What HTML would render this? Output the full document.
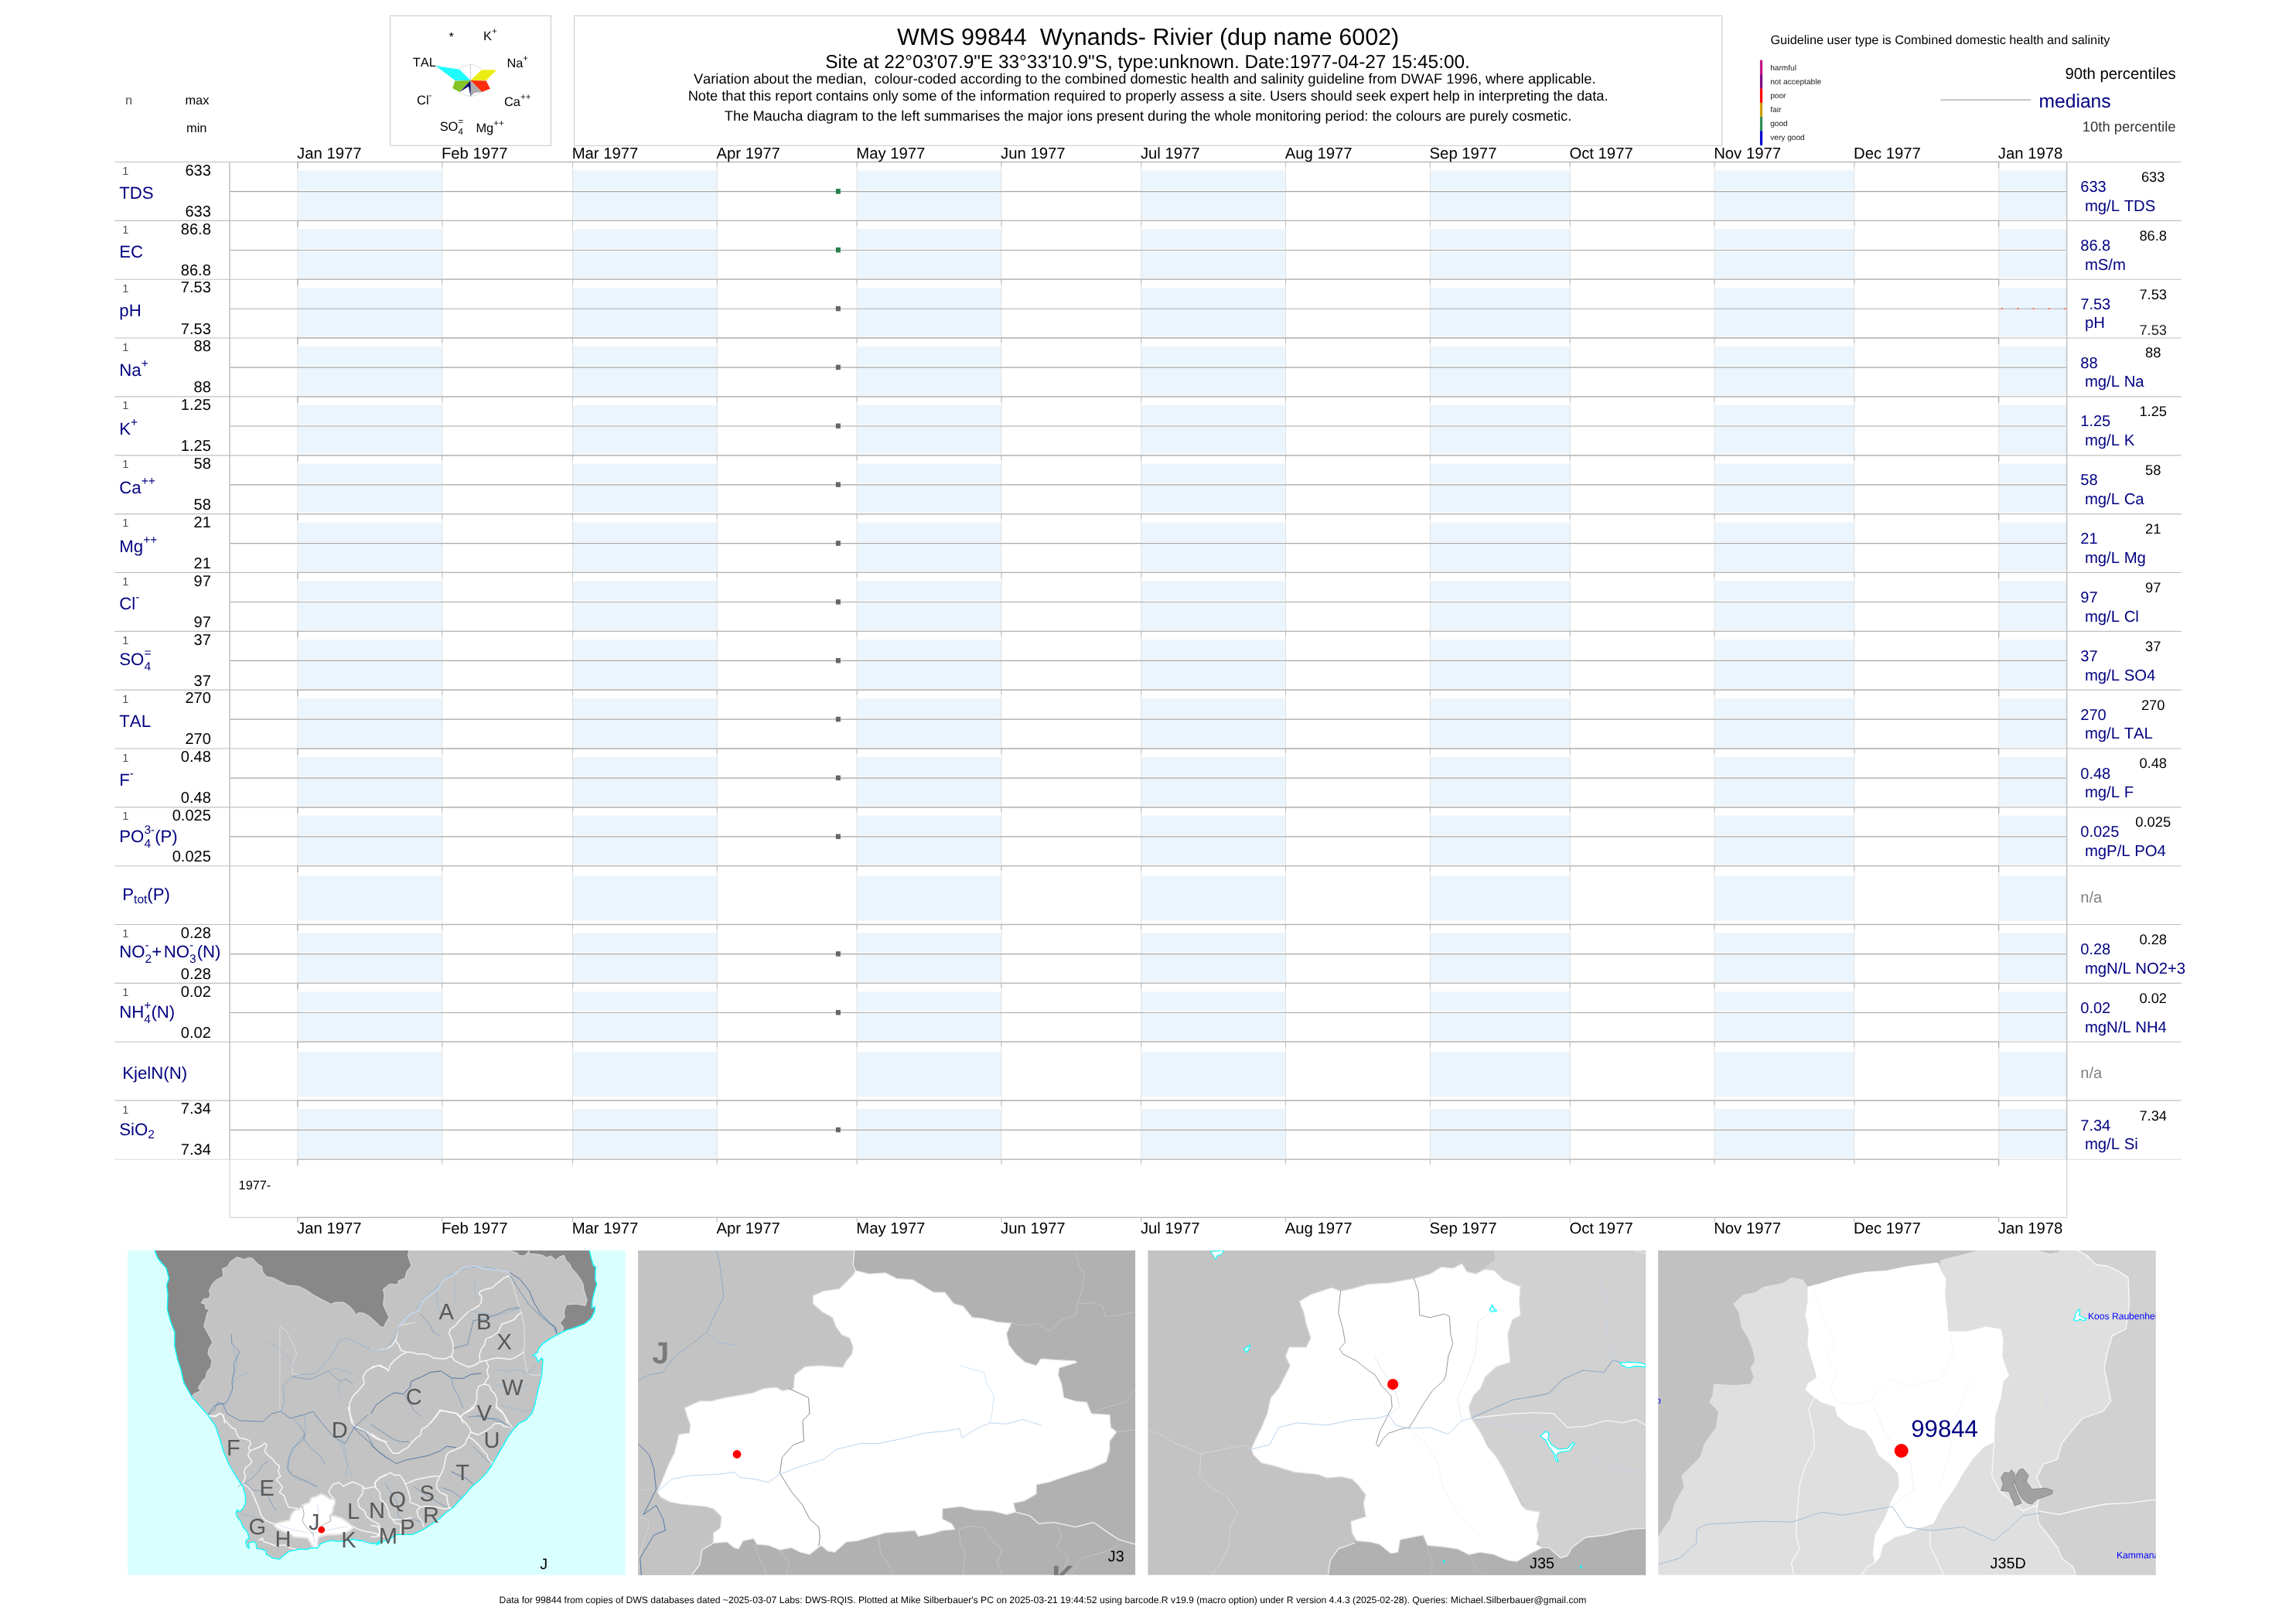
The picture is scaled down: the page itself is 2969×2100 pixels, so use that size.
<!DOCTYPE html>
<html lang="en"><head><meta charset="utf-8"><title>WMS 99844 Wynands- Rivier</title>
<style>html,body{margin:0;padding:0;background:#fff;}body{width:2969px;height:2100px;overflow:hidden;}svg{display:block;will-change:transform;text-rendering:geometricPrecision;font-family:'Liberation Sans', sans-serif;}text{white-space:pre;font-kerning:none;}</style>
</head><body>
<svg width="2969" height="2100" viewBox="0 0 2969 2100">
<rect width="2969" height="2100" fill="#fff"/>
<g id="bands">
<rect x="385.4" y="220.5" width="186.3" height="25.5" fill="#ebf5fd"/>
<rect x="385.4" y="248.5" width="186.3" height="35.3" fill="#ebf5fd"/>
<rect x="741.0" y="220.5" width="186.3" height="25.5" fill="#ebf5fd"/>
<rect x="741.0" y="248.5" width="186.3" height="35.3" fill="#ebf5fd"/>
<rect x="1108.6" y="220.5" width="186.3" height="25.5" fill="#ebf5fd"/>
<rect x="1108.6" y="248.5" width="186.3" height="35.3" fill="#ebf5fd"/>
<rect x="1476.2" y="220.5" width="186.3" height="25.5" fill="#ebf5fd"/>
<rect x="1476.2" y="248.5" width="186.3" height="35.3" fill="#ebf5fd"/>
<rect x="1849.9" y="220.5" width="180.3" height="25.5" fill="#ebf5fd"/>
<rect x="1849.9" y="248.5" width="180.3" height="35.3" fill="#ebf5fd"/>
<rect x="2217.5" y="220.5" width="180.3" height="25.5" fill="#ebf5fd"/>
<rect x="2217.5" y="248.5" width="180.3" height="35.3" fill="#ebf5fd"/>
<rect x="2585.1" y="220.5" width="87.5" height="25.5" fill="#ebf5fd"/>
<rect x="2585.1" y="248.5" width="87.5" height="35.3" fill="#ebf5fd"/>
<rect x="385.4" y="296.4" width="186.3" height="25.6" fill="#ebf5fd"/>
<rect x="385.4" y="324.4" width="186.3" height="35.3" fill="#ebf5fd"/>
<rect x="741.0" y="296.4" width="186.3" height="25.6" fill="#ebf5fd"/>
<rect x="741.0" y="324.4" width="186.3" height="35.3" fill="#ebf5fd"/>
<rect x="1108.6" y="296.4" width="186.3" height="25.6" fill="#ebf5fd"/>
<rect x="1108.6" y="324.4" width="186.3" height="35.3" fill="#ebf5fd"/>
<rect x="1476.2" y="296.4" width="186.3" height="25.6" fill="#ebf5fd"/>
<rect x="1476.2" y="324.4" width="186.3" height="35.3" fill="#ebf5fd"/>
<rect x="1849.9" y="296.4" width="180.3" height="25.6" fill="#ebf5fd"/>
<rect x="1849.9" y="324.4" width="180.3" height="35.3" fill="#ebf5fd"/>
<rect x="2217.5" y="296.4" width="180.3" height="25.6" fill="#ebf5fd"/>
<rect x="2217.5" y="324.4" width="180.3" height="35.3" fill="#ebf5fd"/>
<rect x="2585.1" y="296.4" width="87.5" height="25.6" fill="#ebf5fd"/>
<rect x="2585.1" y="324.4" width="87.5" height="35.3" fill="#ebf5fd"/>
<rect x="385.4" y="372.2" width="186.3" height="63.3" fill="#ebf5fd"/>
<rect x="741.0" y="372.2" width="186.3" height="63.3" fill="#ebf5fd"/>
<rect x="1108.6" y="372.2" width="186.3" height="63.3" fill="#ebf5fd"/>
<rect x="1476.2" y="372.2" width="186.3" height="63.3" fill="#ebf5fd"/>
<rect x="1849.9" y="372.2" width="180.3" height="63.3" fill="#ebf5fd"/>
<rect x="2217.5" y="372.2" width="180.3" height="63.3" fill="#ebf5fd"/>
<rect x="2585.1" y="372.2" width="87.5" height="63.3" fill="#ebf5fd"/>
<rect x="385.4" y="448.0" width="186.3" height="25.6" fill="#ebf5fd"/>
<rect x="385.4" y="476.1" width="186.3" height="35.3" fill="#ebf5fd"/>
<rect x="741.0" y="448.0" width="186.3" height="25.6" fill="#ebf5fd"/>
<rect x="741.0" y="476.1" width="186.3" height="35.3" fill="#ebf5fd"/>
<rect x="1108.6" y="448.0" width="186.3" height="25.6" fill="#ebf5fd"/>
<rect x="1108.6" y="476.1" width="186.3" height="35.3" fill="#ebf5fd"/>
<rect x="1476.2" y="448.0" width="186.3" height="25.6" fill="#ebf5fd"/>
<rect x="1476.2" y="476.1" width="186.3" height="35.3" fill="#ebf5fd"/>
<rect x="1849.9" y="448.0" width="180.3" height="25.6" fill="#ebf5fd"/>
<rect x="1849.9" y="476.1" width="180.3" height="35.3" fill="#ebf5fd"/>
<rect x="2217.5" y="448.0" width="180.3" height="25.6" fill="#ebf5fd"/>
<rect x="2217.5" y="476.1" width="180.3" height="35.3" fill="#ebf5fd"/>
<rect x="2585.1" y="448.0" width="87.5" height="25.6" fill="#ebf5fd"/>
<rect x="2585.1" y="476.1" width="87.5" height="35.3" fill="#ebf5fd"/>
<rect x="385.4" y="523.9" width="186.3" height="25.6" fill="#ebf5fd"/>
<rect x="385.4" y="552.0" width="186.3" height="35.3" fill="#ebf5fd"/>
<rect x="741.0" y="523.9" width="186.3" height="25.6" fill="#ebf5fd"/>
<rect x="741.0" y="552.0" width="186.3" height="35.3" fill="#ebf5fd"/>
<rect x="1108.6" y="523.9" width="186.3" height="25.6" fill="#ebf5fd"/>
<rect x="1108.6" y="552.0" width="186.3" height="35.3" fill="#ebf5fd"/>
<rect x="1476.2" y="523.9" width="186.3" height="25.6" fill="#ebf5fd"/>
<rect x="1476.2" y="552.0" width="186.3" height="35.3" fill="#ebf5fd"/>
<rect x="1849.9" y="523.9" width="180.3" height="25.6" fill="#ebf5fd"/>
<rect x="1849.9" y="552.0" width="180.3" height="35.3" fill="#ebf5fd"/>
<rect x="2217.5" y="523.9" width="180.3" height="25.6" fill="#ebf5fd"/>
<rect x="2217.5" y="552.0" width="180.3" height="35.3" fill="#ebf5fd"/>
<rect x="2585.1" y="523.9" width="87.5" height="25.6" fill="#ebf5fd"/>
<rect x="2585.1" y="552.0" width="87.5" height="35.3" fill="#ebf5fd"/>
<rect x="385.4" y="599.8" width="186.3" height="25.6" fill="#ebf5fd"/>
<rect x="385.4" y="627.8" width="186.3" height="35.3" fill="#ebf5fd"/>
<rect x="741.0" y="599.8" width="186.3" height="25.6" fill="#ebf5fd"/>
<rect x="741.0" y="627.8" width="186.3" height="35.3" fill="#ebf5fd"/>
<rect x="1108.6" y="599.8" width="186.3" height="25.6" fill="#ebf5fd"/>
<rect x="1108.6" y="627.8" width="186.3" height="35.3" fill="#ebf5fd"/>
<rect x="1476.2" y="599.8" width="186.3" height="25.6" fill="#ebf5fd"/>
<rect x="1476.2" y="627.8" width="186.3" height="35.3" fill="#ebf5fd"/>
<rect x="1849.9" y="599.8" width="180.3" height="25.6" fill="#ebf5fd"/>
<rect x="1849.9" y="627.8" width="180.3" height="35.3" fill="#ebf5fd"/>
<rect x="2217.5" y="599.8" width="180.3" height="25.6" fill="#ebf5fd"/>
<rect x="2217.5" y="627.8" width="180.3" height="35.3" fill="#ebf5fd"/>
<rect x="2585.1" y="599.8" width="87.5" height="25.6" fill="#ebf5fd"/>
<rect x="2585.1" y="627.8" width="87.5" height="35.3" fill="#ebf5fd"/>
<rect x="385.4" y="675.6" width="186.3" height="25.6" fill="#ebf5fd"/>
<rect x="385.4" y="703.6" width="186.3" height="35.3" fill="#ebf5fd"/>
<rect x="741.0" y="675.6" width="186.3" height="25.6" fill="#ebf5fd"/>
<rect x="741.0" y="703.6" width="186.3" height="35.3" fill="#ebf5fd"/>
<rect x="1108.6" y="675.6" width="186.3" height="25.6" fill="#ebf5fd"/>
<rect x="1108.6" y="703.6" width="186.3" height="35.3" fill="#ebf5fd"/>
<rect x="1476.2" y="675.6" width="186.3" height="25.6" fill="#ebf5fd"/>
<rect x="1476.2" y="703.6" width="186.3" height="35.3" fill="#ebf5fd"/>
<rect x="1849.9" y="675.6" width="180.3" height="25.6" fill="#ebf5fd"/>
<rect x="1849.9" y="703.6" width="180.3" height="35.3" fill="#ebf5fd"/>
<rect x="2217.5" y="675.6" width="180.3" height="25.6" fill="#ebf5fd"/>
<rect x="2217.5" y="703.6" width="180.3" height="35.3" fill="#ebf5fd"/>
<rect x="2585.1" y="675.6" width="87.5" height="25.6" fill="#ebf5fd"/>
<rect x="2585.1" y="703.6" width="87.5" height="35.3" fill="#ebf5fd"/>
<rect x="385.4" y="751.4" width="186.3" height="25.6" fill="#ebf5fd"/>
<rect x="385.4" y="779.5" width="186.3" height="35.3" fill="#ebf5fd"/>
<rect x="741.0" y="751.4" width="186.3" height="25.6" fill="#ebf5fd"/>
<rect x="741.0" y="779.5" width="186.3" height="35.3" fill="#ebf5fd"/>
<rect x="1108.6" y="751.4" width="186.3" height="25.6" fill="#ebf5fd"/>
<rect x="1108.6" y="779.5" width="186.3" height="35.3" fill="#ebf5fd"/>
<rect x="1476.2" y="751.4" width="186.3" height="25.6" fill="#ebf5fd"/>
<rect x="1476.2" y="779.5" width="186.3" height="35.3" fill="#ebf5fd"/>
<rect x="1849.9" y="751.4" width="180.3" height="25.6" fill="#ebf5fd"/>
<rect x="1849.9" y="779.5" width="180.3" height="35.3" fill="#ebf5fd"/>
<rect x="2217.5" y="751.4" width="180.3" height="25.6" fill="#ebf5fd"/>
<rect x="2217.5" y="779.5" width="180.3" height="35.3" fill="#ebf5fd"/>
<rect x="2585.1" y="751.4" width="87.5" height="25.6" fill="#ebf5fd"/>
<rect x="2585.1" y="779.5" width="87.5" height="35.3" fill="#ebf5fd"/>
<rect x="385.4" y="827.3" width="186.3" height="25.6" fill="#ebf5fd"/>
<rect x="385.4" y="855.4" width="186.3" height="35.3" fill="#ebf5fd"/>
<rect x="741.0" y="827.3" width="186.3" height="25.6" fill="#ebf5fd"/>
<rect x="741.0" y="855.4" width="186.3" height="35.3" fill="#ebf5fd"/>
<rect x="1108.6" y="827.3" width="186.3" height="25.6" fill="#ebf5fd"/>
<rect x="1108.6" y="855.4" width="186.3" height="35.3" fill="#ebf5fd"/>
<rect x="1476.2" y="827.3" width="186.3" height="25.6" fill="#ebf5fd"/>
<rect x="1476.2" y="855.4" width="186.3" height="35.3" fill="#ebf5fd"/>
<rect x="1849.9" y="827.3" width="180.3" height="25.6" fill="#ebf5fd"/>
<rect x="1849.9" y="855.4" width="180.3" height="35.3" fill="#ebf5fd"/>
<rect x="2217.5" y="827.3" width="180.3" height="25.6" fill="#ebf5fd"/>
<rect x="2217.5" y="855.4" width="180.3" height="35.3" fill="#ebf5fd"/>
<rect x="2585.1" y="827.3" width="87.5" height="25.6" fill="#ebf5fd"/>
<rect x="2585.1" y="855.4" width="87.5" height="35.3" fill="#ebf5fd"/>
<rect x="385.4" y="903.1" width="186.3" height="25.6" fill="#ebf5fd"/>
<rect x="385.4" y="931.2" width="186.3" height="35.3" fill="#ebf5fd"/>
<rect x="741.0" y="903.1" width="186.3" height="25.6" fill="#ebf5fd"/>
<rect x="741.0" y="931.2" width="186.3" height="35.3" fill="#ebf5fd"/>
<rect x="1108.6" y="903.1" width="186.3" height="25.6" fill="#ebf5fd"/>
<rect x="1108.6" y="931.2" width="186.3" height="35.3" fill="#ebf5fd"/>
<rect x="1476.2" y="903.1" width="186.3" height="25.6" fill="#ebf5fd"/>
<rect x="1476.2" y="931.2" width="186.3" height="35.3" fill="#ebf5fd"/>
<rect x="1849.9" y="903.1" width="180.3" height="25.6" fill="#ebf5fd"/>
<rect x="1849.9" y="931.2" width="180.3" height="35.3" fill="#ebf5fd"/>
<rect x="2217.5" y="903.1" width="180.3" height="25.6" fill="#ebf5fd"/>
<rect x="2217.5" y="931.2" width="180.3" height="35.3" fill="#ebf5fd"/>
<rect x="2585.1" y="903.1" width="87.5" height="25.6" fill="#ebf5fd"/>
<rect x="2585.1" y="931.2" width="87.5" height="35.3" fill="#ebf5fd"/>
<rect x="385.4" y="979.0" width="186.3" height="25.6" fill="#ebf5fd"/>
<rect x="385.4" y="1007.1" width="186.3" height="35.3" fill="#ebf5fd"/>
<rect x="741.0" y="979.0" width="186.3" height="25.6" fill="#ebf5fd"/>
<rect x="741.0" y="1007.1" width="186.3" height="35.3" fill="#ebf5fd"/>
<rect x="1108.6" y="979.0" width="186.3" height="25.6" fill="#ebf5fd"/>
<rect x="1108.6" y="1007.1" width="186.3" height="35.3" fill="#ebf5fd"/>
<rect x="1476.2" y="979.0" width="186.3" height="25.6" fill="#ebf5fd"/>
<rect x="1476.2" y="1007.1" width="186.3" height="35.3" fill="#ebf5fd"/>
<rect x="1849.9" y="979.0" width="180.3" height="25.6" fill="#ebf5fd"/>
<rect x="1849.9" y="1007.1" width="180.3" height="35.3" fill="#ebf5fd"/>
<rect x="2217.5" y="979.0" width="180.3" height="25.6" fill="#ebf5fd"/>
<rect x="2217.5" y="1007.1" width="180.3" height="35.3" fill="#ebf5fd"/>
<rect x="2585.1" y="979.0" width="87.5" height="25.6" fill="#ebf5fd"/>
<rect x="2585.1" y="1007.1" width="87.5" height="35.3" fill="#ebf5fd"/>
<rect x="385.4" y="1054.8" width="186.3" height="25.5" fill="#ebf5fd"/>
<rect x="385.4" y="1082.9" width="186.3" height="35.3" fill="#ebf5fd"/>
<rect x="741.0" y="1054.8" width="186.3" height="25.5" fill="#ebf5fd"/>
<rect x="741.0" y="1082.9" width="186.3" height="35.3" fill="#ebf5fd"/>
<rect x="1108.6" y="1054.8" width="186.3" height="25.5" fill="#ebf5fd"/>
<rect x="1108.6" y="1082.9" width="186.3" height="35.3" fill="#ebf5fd"/>
<rect x="1476.2" y="1054.8" width="186.3" height="25.5" fill="#ebf5fd"/>
<rect x="1476.2" y="1082.9" width="186.3" height="35.3" fill="#ebf5fd"/>
<rect x="1849.9" y="1054.8" width="180.3" height="25.5" fill="#ebf5fd"/>
<rect x="1849.9" y="1082.9" width="180.3" height="35.3" fill="#ebf5fd"/>
<rect x="2217.5" y="1054.8" width="180.3" height="25.5" fill="#ebf5fd"/>
<rect x="2217.5" y="1082.9" width="180.3" height="35.3" fill="#ebf5fd"/>
<rect x="2585.1" y="1054.8" width="87.5" height="25.5" fill="#ebf5fd"/>
<rect x="2585.1" y="1082.9" width="87.5" height="35.3" fill="#ebf5fd"/>
<rect x="385.4" y="1132.7" width="186.3" height="58.0" fill="#ebf5fd"/>
<rect x="741.0" y="1132.7" width="186.3" height="58.0" fill="#ebf5fd"/>
<rect x="1108.6" y="1132.7" width="186.3" height="58.0" fill="#ebf5fd"/>
<rect x="1476.2" y="1132.7" width="186.3" height="58.0" fill="#ebf5fd"/>
<rect x="1849.9" y="1132.7" width="180.3" height="58.0" fill="#ebf5fd"/>
<rect x="2217.5" y="1132.7" width="180.3" height="58.0" fill="#ebf5fd"/>
<rect x="2585.1" y="1132.7" width="87.5" height="58.0" fill="#ebf5fd"/>
<rect x="385.4" y="1206.5" width="186.3" height="25.5" fill="#ebf5fd"/>
<rect x="385.4" y="1234.6" width="186.3" height="35.3" fill="#ebf5fd"/>
<rect x="741.0" y="1206.5" width="186.3" height="25.5" fill="#ebf5fd"/>
<rect x="741.0" y="1234.6" width="186.3" height="35.3" fill="#ebf5fd"/>
<rect x="1108.6" y="1206.5" width="186.3" height="25.5" fill="#ebf5fd"/>
<rect x="1108.6" y="1234.6" width="186.3" height="35.3" fill="#ebf5fd"/>
<rect x="1476.2" y="1206.5" width="186.3" height="25.5" fill="#ebf5fd"/>
<rect x="1476.2" y="1234.6" width="186.3" height="35.3" fill="#ebf5fd"/>
<rect x="1849.9" y="1206.5" width="180.3" height="25.5" fill="#ebf5fd"/>
<rect x="1849.9" y="1234.6" width="180.3" height="35.3" fill="#ebf5fd"/>
<rect x="2217.5" y="1206.5" width="180.3" height="25.5" fill="#ebf5fd"/>
<rect x="2217.5" y="1234.6" width="180.3" height="35.3" fill="#ebf5fd"/>
<rect x="2585.1" y="1206.5" width="87.5" height="25.5" fill="#ebf5fd"/>
<rect x="2585.1" y="1234.6" width="87.5" height="35.3" fill="#ebf5fd"/>
<rect x="385.4" y="1282.4" width="186.3" height="25.5" fill="#ebf5fd"/>
<rect x="385.4" y="1310.4" width="186.3" height="35.3" fill="#ebf5fd"/>
<rect x="741.0" y="1282.4" width="186.3" height="25.5" fill="#ebf5fd"/>
<rect x="741.0" y="1310.4" width="186.3" height="35.3" fill="#ebf5fd"/>
<rect x="1108.6" y="1282.4" width="186.3" height="25.5" fill="#ebf5fd"/>
<rect x="1108.6" y="1310.4" width="186.3" height="35.3" fill="#ebf5fd"/>
<rect x="1476.2" y="1282.4" width="186.3" height="25.5" fill="#ebf5fd"/>
<rect x="1476.2" y="1310.4" width="186.3" height="35.3" fill="#ebf5fd"/>
<rect x="1849.9" y="1282.4" width="180.3" height="25.5" fill="#ebf5fd"/>
<rect x="1849.9" y="1310.4" width="180.3" height="35.3" fill="#ebf5fd"/>
<rect x="2217.5" y="1282.4" width="180.3" height="25.5" fill="#ebf5fd"/>
<rect x="2217.5" y="1310.4" width="180.3" height="35.3" fill="#ebf5fd"/>
<rect x="2585.1" y="1282.4" width="87.5" height="25.5" fill="#ebf5fd"/>
<rect x="2585.1" y="1310.4" width="87.5" height="35.3" fill="#ebf5fd"/>
<rect x="385.4" y="1360.2" width="186.3" height="58.0" fill="#ebf5fd"/>
<rect x="741.0" y="1360.2" width="186.3" height="58.0" fill="#ebf5fd"/>
<rect x="1108.6" y="1360.2" width="186.3" height="58.0" fill="#ebf5fd"/>
<rect x="1476.2" y="1360.2" width="186.3" height="58.0" fill="#ebf5fd"/>
<rect x="1849.9" y="1360.2" width="180.3" height="58.0" fill="#ebf5fd"/>
<rect x="2217.5" y="1360.2" width="180.3" height="58.0" fill="#ebf5fd"/>
<rect x="2585.1" y="1360.2" width="87.5" height="58.0" fill="#ebf5fd"/>
<rect x="385.4" y="1434.1" width="186.3" height="25.5" fill="#ebf5fd"/>
<rect x="385.4" y="1462.1" width="186.3" height="35.3" fill="#ebf5fd"/>
<rect x="741.0" y="1434.1" width="186.3" height="25.5" fill="#ebf5fd"/>
<rect x="741.0" y="1462.1" width="186.3" height="35.3" fill="#ebf5fd"/>
<rect x="1108.6" y="1434.1" width="186.3" height="25.5" fill="#ebf5fd"/>
<rect x="1108.6" y="1462.1" width="186.3" height="35.3" fill="#ebf5fd"/>
<rect x="1476.2" y="1434.1" width="186.3" height="25.5" fill="#ebf5fd"/>
<rect x="1476.2" y="1462.1" width="186.3" height="35.3" fill="#ebf5fd"/>
<rect x="1849.9" y="1434.1" width="180.3" height="25.5" fill="#ebf5fd"/>
<rect x="1849.9" y="1462.1" width="180.3" height="35.3" fill="#ebf5fd"/>
<rect x="2217.5" y="1434.1" width="180.3" height="25.5" fill="#ebf5fd"/>
<rect x="2217.5" y="1462.1" width="180.3" height="35.3" fill="#ebf5fd"/>
<rect x="2585.1" y="1434.1" width="87.5" height="25.5" fill="#ebf5fd"/>
<rect x="2585.1" y="1462.1" width="87.5" height="35.3" fill="#ebf5fd"/>
</g>
<g id="vlines" stroke="#dedede" stroke-width="0.9">
<line x1="384.9" y1="209.5" x2="384.9" y2="1499.2"/>
<line x1="571.7" y1="209.5" x2="571.7" y2="1499.2"/>
<line x1="740.5" y1="209.5" x2="740.5" y2="1499.2"/>
<line x1="927.3" y1="209.5" x2="927.3" y2="1499.2"/>
<line x1="1108.1" y1="209.5" x2="1108.1" y2="1499.2"/>
<line x1="1294.9" y1="209.5" x2="1294.9" y2="1499.2"/>
<line x1="1475.7" y1="209.5" x2="1475.7" y2="1499.2"/>
<line x1="1662.5" y1="209.5" x2="1662.5" y2="1499.2"/>
<line x1="1849.4" y1="209.5" x2="1849.4" y2="1499.2"/>
<line x1="2030.2" y1="209.5" x2="2030.2" y2="1499.2"/>
<line x1="2217.0" y1="209.5" x2="2217.0" y2="1499.2"/>
<line x1="2397.8" y1="209.5" x2="2397.8" y2="1499.2"/>
<line x1="2584.6" y1="209.5" x2="2584.6" y2="1499.2"/>
</g>
<g id="rules" stroke="#bfbfbf" stroke-width="1.15">
<line x1="148.2" y1="209.5" x2="2820.8" y2="209.5"/>
<line x1="148.2" y1="285.4" x2="2820.8" y2="285.4"/>
<line x1="148.2" y1="361.2" x2="2820.8" y2="361.2"/>
<line x1="148.2" y1="437.0" x2="2820.8" y2="437.0"/>
<line x1="148.2" y1="512.9" x2="2820.8" y2="512.9"/>
<line x1="148.2" y1="588.8" x2="2820.8" y2="588.8"/>
<line x1="148.2" y1="664.6" x2="2820.8" y2="664.6"/>
<line x1="148.2" y1="740.4" x2="2820.8" y2="740.4"/>
<line x1="148.2" y1="816.3" x2="2820.8" y2="816.3"/>
<line x1="148.2" y1="892.1" x2="2820.8" y2="892.1"/>
<line x1="148.2" y1="968.0" x2="2820.8" y2="968.0"/>
<line x1="148.2" y1="1043.8" x2="2820.8" y2="1043.8"/>
<line x1="148.2" y1="1119.7" x2="2820.8" y2="1119.7"/>
<line x1="148.2" y1="1195.5" x2="2820.8" y2="1195.5"/>
<line x1="148.2" y1="1271.4" x2="2820.8" y2="1271.4"/>
<line x1="148.2" y1="1347.2" x2="2820.8" y2="1347.2"/>
<line x1="148.2" y1="1423.1" x2="2820.8" y2="1423.1"/>
<line x1="148.2" y1="1499.2" x2="2820.8" y2="1499.2" stroke="#dadada"/>
</g>
<g id="medl" stroke="#a6a6a6" stroke-width="1.2">
<line x1="297.0" y1="247.6" x2="2672.6" y2="247.6"/>
<line x1="297.0" y1="323.5" x2="2672.6" y2="323.5"/>
<line x1="297.0" y1="399.3" x2="2672.6" y2="399.3" stroke="#bdbdbd"/>
<line x1="297.0" y1="475.1" x2="2672.6" y2="475.1"/>
<line x1="297.0" y1="551.0" x2="2672.6" y2="551.0"/>
<line x1="297.0" y1="626.9" x2="2672.6" y2="626.9"/>
<line x1="297.0" y1="702.7" x2="2672.6" y2="702.7"/>
<line x1="297.0" y1="778.5" x2="2672.6" y2="778.5"/>
<line x1="297.0" y1="854.4" x2="2672.6" y2="854.4"/>
<line x1="297.0" y1="930.2" x2="2672.6" y2="930.2"/>
<line x1="297.0" y1="1006.1" x2="2672.6" y2="1006.1"/>
<line x1="297.0" y1="1081.9" x2="2672.6" y2="1081.9"/>
<line x1="297.0" y1="1233.6" x2="2672.6" y2="1233.6"/>
<line x1="297.0" y1="1309.5" x2="2672.6" y2="1309.5"/>
<line x1="297.0" y1="1461.2" x2="2672.6" y2="1461.2"/>
</g>
<g id="ticks" stroke="#b6b6b6" stroke-width="1.2">
<line x1="384.9" y1="209.5" x2="2584.6" y2="209.5" stroke-width="1.3"/>
<line x1="384.9" y1="209.5" x2="384.9" y2="217.8" stroke="#aaaaaa"/>
<line x1="571.7" y1="209.5" x2="571.7" y2="216.0" stroke="#c4c4c4"/>
<line x1="740.5" y1="209.5" x2="740.5" y2="216.0" stroke="#c4c4c4"/>
<line x1="927.3" y1="209.5" x2="927.3" y2="216.0" stroke="#c4c4c4"/>
<line x1="1108.1" y1="209.5" x2="1108.1" y2="216.0" stroke="#c4c4c4"/>
<line x1="1294.9" y1="209.5" x2="1294.9" y2="216.0" stroke="#c4c4c4"/>
<line x1="1475.7" y1="209.5" x2="1475.7" y2="216.0" stroke="#c4c4c4"/>
<line x1="1662.5" y1="209.5" x2="1662.5" y2="216.0" stroke="#c4c4c4"/>
<line x1="1849.4" y1="209.5" x2="1849.4" y2="216.0" stroke="#c4c4c4"/>
<line x1="2030.2" y1="209.5" x2="2030.2" y2="216.0" stroke="#c4c4c4"/>
<line x1="2217.0" y1="209.5" x2="2217.0" y2="216.0" stroke="#c4c4c4"/>
<line x1="2397.8" y1="209.5" x2="2397.8" y2="216.0" stroke="#c4c4c4"/>
<line x1="2584.6" y1="209.5" x2="2584.6" y2="217.8" stroke="#aaaaaa"/>
<line x1="384.9" y1="285.4" x2="2584.6" y2="285.4" stroke-width="1.3"/>
<line x1="384.9" y1="285.4" x2="384.9" y2="293.7" stroke="#aaaaaa"/>
<line x1="571.7" y1="285.4" x2="571.7" y2="291.9" stroke="#c4c4c4"/>
<line x1="740.5" y1="285.4" x2="740.5" y2="291.9" stroke="#c4c4c4"/>
<line x1="927.3" y1="285.4" x2="927.3" y2="291.9" stroke="#c4c4c4"/>
<line x1="1108.1" y1="285.4" x2="1108.1" y2="291.9" stroke="#c4c4c4"/>
<line x1="1294.9" y1="285.4" x2="1294.9" y2="291.9" stroke="#c4c4c4"/>
<line x1="1475.7" y1="285.4" x2="1475.7" y2="291.9" stroke="#c4c4c4"/>
<line x1="1662.5" y1="285.4" x2="1662.5" y2="291.9" stroke="#c4c4c4"/>
<line x1="1849.4" y1="285.4" x2="1849.4" y2="291.9" stroke="#c4c4c4"/>
<line x1="2030.2" y1="285.4" x2="2030.2" y2="291.9" stroke="#c4c4c4"/>
<line x1="2217.0" y1="285.4" x2="2217.0" y2="291.9" stroke="#c4c4c4"/>
<line x1="2397.8" y1="285.4" x2="2397.8" y2="291.9" stroke="#c4c4c4"/>
<line x1="2584.6" y1="285.4" x2="2584.6" y2="293.7" stroke="#aaaaaa"/>
<line x1="384.9" y1="361.2" x2="2584.6" y2="361.2" stroke-width="1.3"/>
<line x1="384.9" y1="361.2" x2="384.9" y2="369.5" stroke="#aaaaaa"/>
<line x1="571.7" y1="361.2" x2="571.7" y2="367.7" stroke="#c4c4c4"/>
<line x1="740.5" y1="361.2" x2="740.5" y2="367.7" stroke="#c4c4c4"/>
<line x1="927.3" y1="361.2" x2="927.3" y2="367.7" stroke="#c4c4c4"/>
<line x1="1108.1" y1="361.2" x2="1108.1" y2="367.7" stroke="#c4c4c4"/>
<line x1="1294.9" y1="361.2" x2="1294.9" y2="367.7" stroke="#c4c4c4"/>
<line x1="1475.7" y1="361.2" x2="1475.7" y2="367.7" stroke="#c4c4c4"/>
<line x1="1662.5" y1="361.2" x2="1662.5" y2="367.7" stroke="#c4c4c4"/>
<line x1="1849.4" y1="361.2" x2="1849.4" y2="367.7" stroke="#c4c4c4"/>
<line x1="2030.2" y1="361.2" x2="2030.2" y2="367.7" stroke="#c4c4c4"/>
<line x1="2217.0" y1="361.2" x2="2217.0" y2="367.7" stroke="#c4c4c4"/>
<line x1="2397.8" y1="361.2" x2="2397.8" y2="367.7" stroke="#c4c4c4"/>
<line x1="2584.6" y1="361.2" x2="2584.6" y2="369.5" stroke="#aaaaaa"/>
<line x1="384.9" y1="437.0" x2="2584.6" y2="437.0" stroke-width="1.3"/>
<line x1="384.9" y1="437.0" x2="384.9" y2="445.3" stroke="#aaaaaa"/>
<line x1="571.7" y1="437.0" x2="571.7" y2="443.5" stroke="#c4c4c4"/>
<line x1="740.5" y1="437.0" x2="740.5" y2="443.5" stroke="#c4c4c4"/>
<line x1="927.3" y1="437.0" x2="927.3" y2="443.5" stroke="#c4c4c4"/>
<line x1="1108.1" y1="437.0" x2="1108.1" y2="443.5" stroke="#c4c4c4"/>
<line x1="1294.9" y1="437.0" x2="1294.9" y2="443.5" stroke="#c4c4c4"/>
<line x1="1475.7" y1="437.0" x2="1475.7" y2="443.5" stroke="#c4c4c4"/>
<line x1="1662.5" y1="437.0" x2="1662.5" y2="443.5" stroke="#c4c4c4"/>
<line x1="1849.4" y1="437.0" x2="1849.4" y2="443.5" stroke="#c4c4c4"/>
<line x1="2030.2" y1="437.0" x2="2030.2" y2="443.5" stroke="#c4c4c4"/>
<line x1="2217.0" y1="437.0" x2="2217.0" y2="443.5" stroke="#c4c4c4"/>
<line x1="2397.8" y1="437.0" x2="2397.8" y2="443.5" stroke="#c4c4c4"/>
<line x1="2584.6" y1="437.0" x2="2584.6" y2="445.3" stroke="#aaaaaa"/>
<line x1="384.9" y1="512.9" x2="2584.6" y2="512.9" stroke-width="1.3"/>
<line x1="384.9" y1="512.9" x2="384.9" y2="521.2" stroke="#aaaaaa"/>
<line x1="571.7" y1="512.9" x2="571.7" y2="519.4" stroke="#c4c4c4"/>
<line x1="740.5" y1="512.9" x2="740.5" y2="519.4" stroke="#c4c4c4"/>
<line x1="927.3" y1="512.9" x2="927.3" y2="519.4" stroke="#c4c4c4"/>
<line x1="1108.1" y1="512.9" x2="1108.1" y2="519.4" stroke="#c4c4c4"/>
<line x1="1294.9" y1="512.9" x2="1294.9" y2="519.4" stroke="#c4c4c4"/>
<line x1="1475.7" y1="512.9" x2="1475.7" y2="519.4" stroke="#c4c4c4"/>
<line x1="1662.5" y1="512.9" x2="1662.5" y2="519.4" stroke="#c4c4c4"/>
<line x1="1849.4" y1="512.9" x2="1849.4" y2="519.4" stroke="#c4c4c4"/>
<line x1="2030.2" y1="512.9" x2="2030.2" y2="519.4" stroke="#c4c4c4"/>
<line x1="2217.0" y1="512.9" x2="2217.0" y2="519.4" stroke="#c4c4c4"/>
<line x1="2397.8" y1="512.9" x2="2397.8" y2="519.4" stroke="#c4c4c4"/>
<line x1="2584.6" y1="512.9" x2="2584.6" y2="521.2" stroke="#aaaaaa"/>
<line x1="384.9" y1="588.8" x2="2584.6" y2="588.8" stroke-width="1.3"/>
<line x1="384.9" y1="588.8" x2="384.9" y2="597.0" stroke="#aaaaaa"/>
<line x1="571.7" y1="588.8" x2="571.7" y2="595.2" stroke="#c4c4c4"/>
<line x1="740.5" y1="588.8" x2="740.5" y2="595.2" stroke="#c4c4c4"/>
<line x1="927.3" y1="588.8" x2="927.3" y2="595.2" stroke="#c4c4c4"/>
<line x1="1108.1" y1="588.8" x2="1108.1" y2="595.2" stroke="#c4c4c4"/>
<line x1="1294.9" y1="588.8" x2="1294.9" y2="595.2" stroke="#c4c4c4"/>
<line x1="1475.7" y1="588.8" x2="1475.7" y2="595.2" stroke="#c4c4c4"/>
<line x1="1662.5" y1="588.8" x2="1662.5" y2="595.2" stroke="#c4c4c4"/>
<line x1="1849.4" y1="588.8" x2="1849.4" y2="595.2" stroke="#c4c4c4"/>
<line x1="2030.2" y1="588.8" x2="2030.2" y2="595.2" stroke="#c4c4c4"/>
<line x1="2217.0" y1="588.8" x2="2217.0" y2="595.2" stroke="#c4c4c4"/>
<line x1="2397.8" y1="588.8" x2="2397.8" y2="595.2" stroke="#c4c4c4"/>
<line x1="2584.6" y1="588.8" x2="2584.6" y2="597.0" stroke="#aaaaaa"/>
<line x1="384.9" y1="664.6" x2="2584.6" y2="664.6" stroke-width="1.3"/>
<line x1="384.9" y1="664.6" x2="384.9" y2="672.9" stroke="#aaaaaa"/>
<line x1="571.7" y1="664.6" x2="571.7" y2="671.1" stroke="#c4c4c4"/>
<line x1="740.5" y1="664.6" x2="740.5" y2="671.1" stroke="#c4c4c4"/>
<line x1="927.3" y1="664.6" x2="927.3" y2="671.1" stroke="#c4c4c4"/>
<line x1="1108.1" y1="664.6" x2="1108.1" y2="671.1" stroke="#c4c4c4"/>
<line x1="1294.9" y1="664.6" x2="1294.9" y2="671.1" stroke="#c4c4c4"/>
<line x1="1475.7" y1="664.6" x2="1475.7" y2="671.1" stroke="#c4c4c4"/>
<line x1="1662.5" y1="664.6" x2="1662.5" y2="671.1" stroke="#c4c4c4"/>
<line x1="1849.4" y1="664.6" x2="1849.4" y2="671.1" stroke="#c4c4c4"/>
<line x1="2030.2" y1="664.6" x2="2030.2" y2="671.1" stroke="#c4c4c4"/>
<line x1="2217.0" y1="664.6" x2="2217.0" y2="671.1" stroke="#c4c4c4"/>
<line x1="2397.8" y1="664.6" x2="2397.8" y2="671.1" stroke="#c4c4c4"/>
<line x1="2584.6" y1="664.6" x2="2584.6" y2="672.9" stroke="#aaaaaa"/>
<line x1="384.9" y1="740.4" x2="2584.6" y2="740.4" stroke-width="1.3"/>
<line x1="384.9" y1="740.4" x2="384.9" y2="748.7" stroke="#aaaaaa"/>
<line x1="571.7" y1="740.4" x2="571.7" y2="746.9" stroke="#c4c4c4"/>
<line x1="740.5" y1="740.4" x2="740.5" y2="746.9" stroke="#c4c4c4"/>
<line x1="927.3" y1="740.4" x2="927.3" y2="746.9" stroke="#c4c4c4"/>
<line x1="1108.1" y1="740.4" x2="1108.1" y2="746.9" stroke="#c4c4c4"/>
<line x1="1294.9" y1="740.4" x2="1294.9" y2="746.9" stroke="#c4c4c4"/>
<line x1="1475.7" y1="740.4" x2="1475.7" y2="746.9" stroke="#c4c4c4"/>
<line x1="1662.5" y1="740.4" x2="1662.5" y2="746.9" stroke="#c4c4c4"/>
<line x1="1849.4" y1="740.4" x2="1849.4" y2="746.9" stroke="#c4c4c4"/>
<line x1="2030.2" y1="740.4" x2="2030.2" y2="746.9" stroke="#c4c4c4"/>
<line x1="2217.0" y1="740.4" x2="2217.0" y2="746.9" stroke="#c4c4c4"/>
<line x1="2397.8" y1="740.4" x2="2397.8" y2="746.9" stroke="#c4c4c4"/>
<line x1="2584.6" y1="740.4" x2="2584.6" y2="748.7" stroke="#aaaaaa"/>
<line x1="384.9" y1="816.3" x2="2584.6" y2="816.3" stroke-width="1.3"/>
<line x1="384.9" y1="816.3" x2="384.9" y2="824.6" stroke="#aaaaaa"/>
<line x1="571.7" y1="816.3" x2="571.7" y2="822.8" stroke="#c4c4c4"/>
<line x1="740.5" y1="816.3" x2="740.5" y2="822.8" stroke="#c4c4c4"/>
<line x1="927.3" y1="816.3" x2="927.3" y2="822.8" stroke="#c4c4c4"/>
<line x1="1108.1" y1="816.3" x2="1108.1" y2="822.8" stroke="#c4c4c4"/>
<line x1="1294.9" y1="816.3" x2="1294.9" y2="822.8" stroke="#c4c4c4"/>
<line x1="1475.7" y1="816.3" x2="1475.7" y2="822.8" stroke="#c4c4c4"/>
<line x1="1662.5" y1="816.3" x2="1662.5" y2="822.8" stroke="#c4c4c4"/>
<line x1="1849.4" y1="816.3" x2="1849.4" y2="822.8" stroke="#c4c4c4"/>
<line x1="2030.2" y1="816.3" x2="2030.2" y2="822.8" stroke="#c4c4c4"/>
<line x1="2217.0" y1="816.3" x2="2217.0" y2="822.8" stroke="#c4c4c4"/>
<line x1="2397.8" y1="816.3" x2="2397.8" y2="822.8" stroke="#c4c4c4"/>
<line x1="2584.6" y1="816.3" x2="2584.6" y2="824.6" stroke="#aaaaaa"/>
<line x1="384.9" y1="892.1" x2="2584.6" y2="892.1" stroke-width="1.3"/>
<line x1="384.9" y1="892.1" x2="384.9" y2="900.4" stroke="#aaaaaa"/>
<line x1="571.7" y1="892.1" x2="571.7" y2="898.6" stroke="#c4c4c4"/>
<line x1="740.5" y1="892.1" x2="740.5" y2="898.6" stroke="#c4c4c4"/>
<line x1="927.3" y1="892.1" x2="927.3" y2="898.6" stroke="#c4c4c4"/>
<line x1="1108.1" y1="892.1" x2="1108.1" y2="898.6" stroke="#c4c4c4"/>
<line x1="1294.9" y1="892.1" x2="1294.9" y2="898.6" stroke="#c4c4c4"/>
<line x1="1475.7" y1="892.1" x2="1475.7" y2="898.6" stroke="#c4c4c4"/>
<line x1="1662.5" y1="892.1" x2="1662.5" y2="898.6" stroke="#c4c4c4"/>
<line x1="1849.4" y1="892.1" x2="1849.4" y2="898.6" stroke="#c4c4c4"/>
<line x1="2030.2" y1="892.1" x2="2030.2" y2="898.6" stroke="#c4c4c4"/>
<line x1="2217.0" y1="892.1" x2="2217.0" y2="898.6" stroke="#c4c4c4"/>
<line x1="2397.8" y1="892.1" x2="2397.8" y2="898.6" stroke="#c4c4c4"/>
<line x1="2584.6" y1="892.1" x2="2584.6" y2="900.4" stroke="#aaaaaa"/>
<line x1="384.9" y1="968.0" x2="2584.6" y2="968.0" stroke-width="1.3"/>
<line x1="384.9" y1="968.0" x2="384.9" y2="976.3" stroke="#aaaaaa"/>
<line x1="571.7" y1="968.0" x2="571.7" y2="974.5" stroke="#c4c4c4"/>
<line x1="740.5" y1="968.0" x2="740.5" y2="974.5" stroke="#c4c4c4"/>
<line x1="927.3" y1="968.0" x2="927.3" y2="974.5" stroke="#c4c4c4"/>
<line x1="1108.1" y1="968.0" x2="1108.1" y2="974.5" stroke="#c4c4c4"/>
<line x1="1294.9" y1="968.0" x2="1294.9" y2="974.5" stroke="#c4c4c4"/>
<line x1="1475.7" y1="968.0" x2="1475.7" y2="974.5" stroke="#c4c4c4"/>
<line x1="1662.5" y1="968.0" x2="1662.5" y2="974.5" stroke="#c4c4c4"/>
<line x1="1849.4" y1="968.0" x2="1849.4" y2="974.5" stroke="#c4c4c4"/>
<line x1="2030.2" y1="968.0" x2="2030.2" y2="974.5" stroke="#c4c4c4"/>
<line x1="2217.0" y1="968.0" x2="2217.0" y2="974.5" stroke="#c4c4c4"/>
<line x1="2397.8" y1="968.0" x2="2397.8" y2="974.5" stroke="#c4c4c4"/>
<line x1="2584.6" y1="968.0" x2="2584.6" y2="976.3" stroke="#aaaaaa"/>
<line x1="384.9" y1="1043.8" x2="2584.6" y2="1043.8" stroke-width="1.3"/>
<line x1="384.9" y1="1043.8" x2="384.9" y2="1052.1" stroke="#aaaaaa"/>
<line x1="571.7" y1="1043.8" x2="571.7" y2="1050.3" stroke="#c4c4c4"/>
<line x1="740.5" y1="1043.8" x2="740.5" y2="1050.3" stroke="#c4c4c4"/>
<line x1="927.3" y1="1043.8" x2="927.3" y2="1050.3" stroke="#c4c4c4"/>
<line x1="1108.1" y1="1043.8" x2="1108.1" y2="1050.3" stroke="#c4c4c4"/>
<line x1="1294.9" y1="1043.8" x2="1294.9" y2="1050.3" stroke="#c4c4c4"/>
<line x1="1475.7" y1="1043.8" x2="1475.7" y2="1050.3" stroke="#c4c4c4"/>
<line x1="1662.5" y1="1043.8" x2="1662.5" y2="1050.3" stroke="#c4c4c4"/>
<line x1="1849.4" y1="1043.8" x2="1849.4" y2="1050.3" stroke="#c4c4c4"/>
<line x1="2030.2" y1="1043.8" x2="2030.2" y2="1050.3" stroke="#c4c4c4"/>
<line x1="2217.0" y1="1043.8" x2="2217.0" y2="1050.3" stroke="#c4c4c4"/>
<line x1="2397.8" y1="1043.8" x2="2397.8" y2="1050.3" stroke="#c4c4c4"/>
<line x1="2584.6" y1="1043.8" x2="2584.6" y2="1052.1" stroke="#aaaaaa"/>
<line x1="384.9" y1="1119.7" x2="2584.6" y2="1119.7" stroke-width="1.3"/>
<line x1="384.9" y1="1119.7" x2="384.9" y2="1128.0" stroke="#aaaaaa"/>
<line x1="571.7" y1="1119.7" x2="571.7" y2="1126.2" stroke="#c4c4c4"/>
<line x1="740.5" y1="1119.7" x2="740.5" y2="1126.2" stroke="#c4c4c4"/>
<line x1="927.3" y1="1119.7" x2="927.3" y2="1126.2" stroke="#c4c4c4"/>
<line x1="1108.1" y1="1119.7" x2="1108.1" y2="1126.2" stroke="#c4c4c4"/>
<line x1="1294.9" y1="1119.7" x2="1294.9" y2="1126.2" stroke="#c4c4c4"/>
<line x1="1475.7" y1="1119.7" x2="1475.7" y2="1126.2" stroke="#c4c4c4"/>
<line x1="1662.5" y1="1119.7" x2="1662.5" y2="1126.2" stroke="#c4c4c4"/>
<line x1="1849.4" y1="1119.7" x2="1849.4" y2="1126.2" stroke="#c4c4c4"/>
<line x1="2030.2" y1="1119.7" x2="2030.2" y2="1126.2" stroke="#c4c4c4"/>
<line x1="2217.0" y1="1119.7" x2="2217.0" y2="1126.2" stroke="#c4c4c4"/>
<line x1="2397.8" y1="1119.7" x2="2397.8" y2="1126.2" stroke="#c4c4c4"/>
<line x1="2584.6" y1="1119.7" x2="2584.6" y2="1128.0" stroke="#aaaaaa"/>
<line x1="384.9" y1="1195.5" x2="2584.6" y2="1195.5" stroke-width="1.3"/>
<line x1="384.9" y1="1195.5" x2="384.9" y2="1203.8" stroke="#aaaaaa"/>
<line x1="571.7" y1="1195.5" x2="571.7" y2="1202.0" stroke="#c4c4c4"/>
<line x1="740.5" y1="1195.5" x2="740.5" y2="1202.0" stroke="#c4c4c4"/>
<line x1="927.3" y1="1195.5" x2="927.3" y2="1202.0" stroke="#c4c4c4"/>
<line x1="1108.1" y1="1195.5" x2="1108.1" y2="1202.0" stroke="#c4c4c4"/>
<line x1="1294.9" y1="1195.5" x2="1294.9" y2="1202.0" stroke="#c4c4c4"/>
<line x1="1475.7" y1="1195.5" x2="1475.7" y2="1202.0" stroke="#c4c4c4"/>
<line x1="1662.5" y1="1195.5" x2="1662.5" y2="1202.0" stroke="#c4c4c4"/>
<line x1="1849.4" y1="1195.5" x2="1849.4" y2="1202.0" stroke="#c4c4c4"/>
<line x1="2030.2" y1="1195.5" x2="2030.2" y2="1202.0" stroke="#c4c4c4"/>
<line x1="2217.0" y1="1195.5" x2="2217.0" y2="1202.0" stroke="#c4c4c4"/>
<line x1="2397.8" y1="1195.5" x2="2397.8" y2="1202.0" stroke="#c4c4c4"/>
<line x1="2584.6" y1="1195.5" x2="2584.6" y2="1203.8" stroke="#aaaaaa"/>
<line x1="384.9" y1="1271.4" x2="2584.6" y2="1271.4" stroke-width="1.3"/>
<line x1="384.9" y1="1271.4" x2="384.9" y2="1279.7" stroke="#aaaaaa"/>
<line x1="571.7" y1="1271.4" x2="571.7" y2="1277.9" stroke="#c4c4c4"/>
<line x1="740.5" y1="1271.4" x2="740.5" y2="1277.9" stroke="#c4c4c4"/>
<line x1="927.3" y1="1271.4" x2="927.3" y2="1277.9" stroke="#c4c4c4"/>
<line x1="1108.1" y1="1271.4" x2="1108.1" y2="1277.9" stroke="#c4c4c4"/>
<line x1="1294.9" y1="1271.4" x2="1294.9" y2="1277.9" stroke="#c4c4c4"/>
<line x1="1475.7" y1="1271.4" x2="1475.7" y2="1277.9" stroke="#c4c4c4"/>
<line x1="1662.5" y1="1271.4" x2="1662.5" y2="1277.9" stroke="#c4c4c4"/>
<line x1="1849.4" y1="1271.4" x2="1849.4" y2="1277.9" stroke="#c4c4c4"/>
<line x1="2030.2" y1="1271.4" x2="2030.2" y2="1277.9" stroke="#c4c4c4"/>
<line x1="2217.0" y1="1271.4" x2="2217.0" y2="1277.9" stroke="#c4c4c4"/>
<line x1="2397.8" y1="1271.4" x2="2397.8" y2="1277.9" stroke="#c4c4c4"/>
<line x1="2584.6" y1="1271.4" x2="2584.6" y2="1279.7" stroke="#aaaaaa"/>
<line x1="384.9" y1="1347.2" x2="2584.6" y2="1347.2" stroke-width="1.3"/>
<line x1="384.9" y1="1347.2" x2="384.9" y2="1355.5" stroke="#aaaaaa"/>
<line x1="571.7" y1="1347.2" x2="571.7" y2="1353.8" stroke="#c4c4c4"/>
<line x1="740.5" y1="1347.2" x2="740.5" y2="1353.8" stroke="#c4c4c4"/>
<line x1="927.3" y1="1347.2" x2="927.3" y2="1353.8" stroke="#c4c4c4"/>
<line x1="1108.1" y1="1347.2" x2="1108.1" y2="1353.8" stroke="#c4c4c4"/>
<line x1="1294.9" y1="1347.2" x2="1294.9" y2="1353.8" stroke="#c4c4c4"/>
<line x1="1475.7" y1="1347.2" x2="1475.7" y2="1353.8" stroke="#c4c4c4"/>
<line x1="1662.5" y1="1347.2" x2="1662.5" y2="1353.8" stroke="#c4c4c4"/>
<line x1="1849.4" y1="1347.2" x2="1849.4" y2="1353.8" stroke="#c4c4c4"/>
<line x1="2030.2" y1="1347.2" x2="2030.2" y2="1353.8" stroke="#c4c4c4"/>
<line x1="2217.0" y1="1347.2" x2="2217.0" y2="1353.8" stroke="#c4c4c4"/>
<line x1="2397.8" y1="1347.2" x2="2397.8" y2="1353.8" stroke="#c4c4c4"/>
<line x1="2584.6" y1="1347.2" x2="2584.6" y2="1355.5" stroke="#aaaaaa"/>
<line x1="384.9" y1="1423.1" x2="2584.6" y2="1423.1" stroke-width="1.3"/>
<line x1="384.9" y1="1423.1" x2="384.9" y2="1431.4" stroke="#aaaaaa"/>
<line x1="571.7" y1="1423.1" x2="571.7" y2="1429.6" stroke="#c4c4c4"/>
<line x1="740.5" y1="1423.1" x2="740.5" y2="1429.6" stroke="#c4c4c4"/>
<line x1="927.3" y1="1423.1" x2="927.3" y2="1429.6" stroke="#c4c4c4"/>
<line x1="1108.1" y1="1423.1" x2="1108.1" y2="1429.6" stroke="#c4c4c4"/>
<line x1="1294.9" y1="1423.1" x2="1294.9" y2="1429.6" stroke="#c4c4c4"/>
<line x1="1475.7" y1="1423.1" x2="1475.7" y2="1429.6" stroke="#c4c4c4"/>
<line x1="1662.5" y1="1423.1" x2="1662.5" y2="1429.6" stroke="#c4c4c4"/>
<line x1="1849.4" y1="1423.1" x2="1849.4" y2="1429.6" stroke="#c4c4c4"/>
<line x1="2030.2" y1="1423.1" x2="2030.2" y2="1429.6" stroke="#c4c4c4"/>
<line x1="2217.0" y1="1423.1" x2="2217.0" y2="1429.6" stroke="#c4c4c4"/>
<line x1="2397.8" y1="1423.1" x2="2397.8" y2="1429.6" stroke="#c4c4c4"/>
<line x1="2584.6" y1="1423.1" x2="2584.6" y2="1431.4" stroke="#aaaaaa"/>
<line x1="384.9" y1="1499.2" x2="2584.6" y2="1499.2" stroke-width="1.3"/>
<line x1="384.9" y1="1499.2" x2="384.9" y2="1507.5" stroke="#aaaaaa"/>
<line x1="571.7" y1="1499.2" x2="571.7" y2="1505.7" stroke="#c4c4c4"/>
<line x1="740.5" y1="1499.2" x2="740.5" y2="1505.7" stroke="#c4c4c4"/>
<line x1="927.3" y1="1499.2" x2="927.3" y2="1505.7" stroke="#c4c4c4"/>
<line x1="1108.1" y1="1499.2" x2="1108.1" y2="1505.7" stroke="#c4c4c4"/>
<line x1="1294.9" y1="1499.2" x2="1294.9" y2="1505.7" stroke="#c4c4c4"/>
<line x1="1475.7" y1="1499.2" x2="1475.7" y2="1505.7" stroke="#c4c4c4"/>
<line x1="1662.5" y1="1499.2" x2="1662.5" y2="1505.7" stroke="#c4c4c4"/>
<line x1="1849.4" y1="1499.2" x2="1849.4" y2="1505.7" stroke="#c4c4c4"/>
<line x1="2030.2" y1="1499.2" x2="2030.2" y2="1505.7" stroke="#c4c4c4"/>
<line x1="2217.0" y1="1499.2" x2="2217.0" y2="1505.7" stroke="#c4c4c4"/>
<line x1="2397.8" y1="1499.2" x2="2397.8" y2="1505.7" stroke="#c4c4c4"/>
<line x1="2584.6" y1="1499.2" x2="2584.6" y2="1507.5" stroke="#aaaaaa"/>
</g>
<g stroke="#c0c0c0" stroke-width="1.5" fill="none"><line x1="297.0" y1="209.5" x2="297.0" y2="1499.2"/><line x1="2672.6" y1="209.5" x2="2672.6" y2="1499.2"/></g>
<g stroke="#d4d4d4" stroke-width="1.2" fill="none"><path d="M297.0 1499.2V1574.4H2672.6V1499.2"/></g>
<g stroke="#b6b6b6" stroke-width="1.2">
<line x1="384.9" y1="1574.4" x2="2584.6" y2="1574.4" stroke-width="1.3"/>
<line x1="384.9" y1="1574.4" x2="384.9" y2="1580.6000000000001" stroke="#aaaaaa"/>
<line x1="571.7" y1="1574.4" x2="571.7" y2="1580.6000000000001" stroke="#c4c4c4"/>
<line x1="740.5" y1="1574.4" x2="740.5" y2="1580.6000000000001" stroke="#c4c4c4"/>
<line x1="927.3" y1="1574.4" x2="927.3" y2="1580.6000000000001" stroke="#c4c4c4"/>
<line x1="1108.1" y1="1574.4" x2="1108.1" y2="1580.6000000000001" stroke="#c4c4c4"/>
<line x1="1294.9" y1="1574.4" x2="1294.9" y2="1580.6000000000001" stroke="#c4c4c4"/>
<line x1="1475.7" y1="1574.4" x2="1475.7" y2="1580.6000000000001" stroke="#c4c4c4"/>
<line x1="1662.5" y1="1574.4" x2="1662.5" y2="1580.6000000000001" stroke="#c4c4c4"/>
<line x1="1849.4" y1="1574.4" x2="1849.4" y2="1580.6000000000001" stroke="#c4c4c4"/>
<line x1="2030.2" y1="1574.4" x2="2030.2" y2="1580.6000000000001" stroke="#c4c4c4"/>
<line x1="2217.0" y1="1574.4" x2="2217.0" y2="1580.6000000000001" stroke="#c4c4c4"/>
<line x1="2397.8" y1="1574.4" x2="2397.8" y2="1580.6000000000001" stroke="#c4c4c4"/>
<line x1="2584.6" y1="1574.4" x2="2584.6" y2="1580.6000000000001" stroke="#aaaaaa"/>
</g>
<g id="months">
<text x="384.1" y="204.7" font-size="20.3" fill="#000">Jan 1977</text>
<text x="384.1" y="1594.5" font-size="20.3" fill="#000">Jan 1977</text>
<text x="570.9" y="204.7" font-size="20.3" fill="#000">Feb 1977</text>
<text x="570.9" y="1594.5" font-size="20.3" fill="#000">Feb 1977</text>
<text x="739.7" y="204.7" font-size="20.3" fill="#000">Mar 1977</text>
<text x="739.7" y="1594.5" font-size="20.3" fill="#000">Mar 1977</text>
<text x="926.5" y="204.7" font-size="20.3" fill="#000">Apr 1977</text>
<text x="926.5" y="1594.5" font-size="20.3" fill="#000">Apr 1977</text>
<text x="1107.3" y="204.7" font-size="20.3" fill="#000">May 1977</text>
<text x="1107.3" y="1594.5" font-size="20.3" fill="#000">May 1977</text>
<text x="1294.1" y="204.7" font-size="20.3" fill="#000">Jun 1977</text>
<text x="1294.1" y="1594.5" font-size="20.3" fill="#000">Jun 1977</text>
<text x="1474.9" y="204.7" font-size="20.3" fill="#000">Jul 1977</text>
<text x="1474.9" y="1594.5" font-size="20.3" fill="#000">Jul 1977</text>
<text x="1661.7" y="204.7" font-size="20.3" fill="#000">Aug 1977</text>
<text x="1661.7" y="1594.5" font-size="20.3" fill="#000">Aug 1977</text>
<text x="1848.6" y="204.7" font-size="20.3" fill="#000">Sep 1977</text>
<text x="1848.6" y="1594.5" font-size="20.3" fill="#000">Sep 1977</text>
<text x="2029.4" y="204.7" font-size="20.3" fill="#000">Oct 1977</text>
<text x="2029.4" y="1594.5" font-size="20.3" fill="#000">Oct 1977</text>
<text x="2216.2" y="204.7" font-size="20.3" fill="#000">Nov 1977</text>
<text x="2216.2" y="1594.5" font-size="20.3" fill="#000">Nov 1977</text>
<text x="2397.0" y="204.7" font-size="20.3" fill="#000">Dec 1977</text>
<text x="2397.0" y="1594.5" font-size="20.3" fill="#000">Dec 1977</text>
<text x="2583.8" y="204.7" font-size="20.3" fill="#000">Jan 1978</text>
<text x="2583.8" y="1594.5" font-size="20.3" fill="#000">Jan 1978</text>
</g>
<text x="308.6" y="1537.8" font-size="16.3" fill="#000">1977-</text>
<g id="pts">
<rect x="1080.85" y="244.15" width="6" height="6.5" fill="#26804a"/>
<rect x="1080.85" y="320.00" width="6" height="6.5" fill="#26804a"/>
<rect x="1080.85" y="395.85" width="6" height="6.5" fill="#666"/>
<rect x="1080.85" y="471.70" width="6" height="6.5" fill="#666"/>
<rect x="1080.85" y="547.55" width="6" height="6.5" fill="#666"/>
<rect x="1080.85" y="623.40" width="6" height="6.5" fill="#666"/>
<rect x="1080.85" y="699.25" width="6" height="6.5" fill="#666"/>
<rect x="1080.85" y="775.10" width="6" height="6.5" fill="#666"/>
<rect x="1080.85" y="850.95" width="6" height="6.5" fill="#666"/>
<rect x="1080.85" y="926.80" width="6" height="6.5" fill="#666"/>
<rect x="1080.85" y="1002.65" width="6" height="6.5" fill="#666"/>
<rect x="1080.85" y="1078.50" width="6" height="6.5" fill="#666"/>
<rect x="1080.85" y="1230.20" width="6" height="6.5" fill="#666"/>
<rect x="1080.85" y="1306.05" width="6" height="6.5" fill="#666"/>
<rect x="1080.85" y="1457.75" width="6" height="6.5" fill="#666"/>
</g>
<rect x="2587.7" y="398.4" width="2.0" height="1.7" fill="#ff5a14"/>
<rect x="2608.3" y="398.4" width="2.0" height="1.7" fill="#ff5a14"/>
<rect x="2628.6" y="398.4" width="2.0" height="1.7" fill="#ff5a14"/>
<rect x="2649.0" y="398.4" width="2.0" height="1.7" fill="#ff5a14"/>
<rect x="2669.4" y="398.4" width="2.0" height="1.7" fill="#ff5a14"/>
<g id="rowtext">
<text x="162.4" y="226.0" font-size="14.5" text-anchor="middle" fill="#4d4d4d">1</text>
<text x="272.8" y="226.7" font-size="20" text-anchor="end" fill="#000">633</text>
<text x="272.8" y="279.8" font-size="20" text-anchor="end" fill="#000">633</text>
<text fill="#000080"><tspan x="154.30" y="256.90" font-size="22.2">TDS</tspan></text>
<text x="2690.3" y="248.0" font-size="20" fill="#000080">633</text>
<text x="2690.3" y="272.7" font-size="20.3" fill="#000080"> mg/L TDS</text>
<text x="2784.2" y="234.9" font-size="18.3" text-anchor="middle" fill="#000">633</text>
<text x="162.4" y="301.9" font-size="14.5" text-anchor="middle" fill="#4d4d4d">1</text>
<text x="272.8" y="302.6" font-size="20" text-anchor="end" fill="#000">86.8</text>
<text x="272.8" y="355.7" font-size="20" text-anchor="end" fill="#000">86.8</text>
<text fill="#000080"><tspan x="154.30" y="332.75" font-size="22.2">EC</tspan></text>
<text x="2690.3" y="323.9" font-size="20" fill="#000080">86.8</text>
<text x="2690.3" y="348.6" font-size="20.3" fill="#000080"> mS/m</text>
<text x="2784.2" y="310.8" font-size="18.3" text-anchor="middle" fill="#000">86.8</text>
<text x="162.4" y="377.7" font-size="14.5" text-anchor="middle" fill="#4d4d4d">1</text>
<text x="272.8" y="378.4" font-size="20" text-anchor="end" fill="#000">7.53</text>
<text x="272.8" y="431.5" font-size="20" text-anchor="end" fill="#000">7.53</text>
<text fill="#000080"><tspan x="154.30" y="408.60" font-size="22.2">pH</tspan></text>
<text x="2690.3" y="399.7" font-size="20" fill="#000080">7.53</text>
<text x="2690.3" y="424.4" font-size="20.3" fill="#000080"> pH</text>
<text x="2784.2" y="386.6" font-size="18.3" text-anchor="middle" fill="#000">7.53</text>
<text x="2784.2" y="433.0" font-size="18.3" text-anchor="middle" fill="#222">7.53</text>
<text x="162.4" y="453.5" font-size="14.5" text-anchor="middle" fill="#4d4d4d">1</text>
<text x="272.8" y="454.2" font-size="20" text-anchor="end" fill="#000">88</text>
<text x="272.8" y="507.3" font-size="20" text-anchor="end" fill="#000">88</text>
<text fill="#000080"><tspan x="154.30" y="486.05" font-size="22.2">Na</tspan><tspan x="182.67" y="475.25" font-size="15.5">+</tspan></text>
<text x="2690.3" y="475.5" font-size="20" fill="#000080">88</text>
<text x="2690.3" y="500.2" font-size="20.3" fill="#000080"> mg/L Na</text>
<text x="2784.2" y="462.4" font-size="18.3" text-anchor="middle" fill="#000">88</text>
<text x="162.4" y="529.4" font-size="14.5" text-anchor="middle" fill="#4d4d4d">1</text>
<text x="272.8" y="530.1" font-size="20" text-anchor="end" fill="#000">1.25</text>
<text x="272.8" y="583.2" font-size="20" text-anchor="end" fill="#000">1.25</text>
<text fill="#000080"><tspan x="154.30" y="561.90" font-size="22.2">K</tspan><tspan x="169.11" y="551.10" font-size="15.5">+</tspan></text>
<text x="2690.3" y="551.4" font-size="20" fill="#000080">1.25</text>
<text x="2690.3" y="576.1" font-size="20.3" fill="#000080"> mg/L K</text>
<text x="2784.2" y="538.3" font-size="18.3" text-anchor="middle" fill="#000">1.25</text>
<text x="162.4" y="605.2" font-size="14.5" text-anchor="middle" fill="#4d4d4d">1</text>
<text x="272.8" y="606.0" font-size="20" text-anchor="end" fill="#000">58</text>
<text x="272.8" y="659.0" font-size="20" text-anchor="end" fill="#000">58</text>
<text fill="#000080"><tspan x="154.30" y="637.75" font-size="22.2">Ca</tspan><tspan x="182.67" y="626.95" font-size="15.5">++</tspan></text>
<text x="2690.3" y="627.2" font-size="20" fill="#000080">58</text>
<text x="2690.3" y="652.0" font-size="20.3" fill="#000080"> mg/L Ca</text>
<text x="2784.2" y="614.1" font-size="18.3" text-anchor="middle" fill="#000">58</text>
<text x="162.4" y="681.1" font-size="14.5" text-anchor="middle" fill="#4d4d4d">1</text>
<text x="272.8" y="681.8" font-size="20" text-anchor="end" fill="#000">21</text>
<text x="272.8" y="734.9" font-size="20" text-anchor="end" fill="#000">21</text>
<text fill="#000080"><tspan x="154.30" y="713.60" font-size="22.2">Mg</tspan><tspan x="185.14" y="702.80" font-size="15.5">++</tspan></text>
<text x="2690.3" y="703.1" font-size="20" fill="#000080">21</text>
<text x="2690.3" y="727.8" font-size="20.3" fill="#000080"> mg/L Mg</text>
<text x="2784.2" y="690.0" font-size="18.3" text-anchor="middle" fill="#000">21</text>
<text x="162.4" y="756.9" font-size="14.5" text-anchor="middle" fill="#4d4d4d">1</text>
<text x="272.8" y="757.6" font-size="20" text-anchor="end" fill="#000">97</text>
<text x="272.8" y="810.7" font-size="20" text-anchor="end" fill="#000">97</text>
<text fill="#000080"><tspan x="154.30" y="787.95" font-size="22.2">Cl</tspan><tspan x="175.26" y="777.15" font-size="15.5">-</tspan></text>
<text x="2690.3" y="778.9" font-size="20" fill="#000080">97</text>
<text x="2690.3" y="803.6" font-size="20.3" fill="#000080"> mg/L Cl</text>
<text x="2784.2" y="765.8" font-size="18.3" text-anchor="middle" fill="#000">97</text>
<text x="162.4" y="832.8" font-size="14.5" text-anchor="middle" fill="#4d4d4d">1</text>
<text x="272.8" y="833.5" font-size="20" text-anchor="end" fill="#000">37</text>
<text x="272.8" y="886.6" font-size="20" text-anchor="end" fill="#000">37</text>
<text fill="#000080"><tspan x="154.30" y="859.80" font-size="22.2">SO</tspan><tspan x="186.38" y="866.70" font-size="15.5">4</tspan><tspan x="186.38" y="849.00" font-size="15.5">=</tspan></text>
<text x="2690.3" y="854.8" font-size="20" fill="#000080">37</text>
<text x="2690.3" y="879.5" font-size="20.3" fill="#000080"> mg/L SO4</text>
<text x="2784.2" y="841.7" font-size="18.3" text-anchor="middle" fill="#000">37</text>
<text x="162.4" y="908.6" font-size="14.5" text-anchor="middle" fill="#4d4d4d">1</text>
<text x="272.8" y="909.4" font-size="20" text-anchor="end" fill="#000">270</text>
<text x="272.8" y="962.4" font-size="20" text-anchor="end" fill="#000">270</text>
<text fill="#000080"><tspan x="154.30" y="939.55" font-size="22.2">TAL</tspan></text>
<text x="2690.3" y="930.6" font-size="20" fill="#000080">270</text>
<text x="2690.3" y="955.4" font-size="20.3" fill="#000080"> mg/L TAL</text>
<text x="2784.2" y="917.5" font-size="18.3" text-anchor="middle" fill="#000">270</text>
<text x="162.4" y="984.5" font-size="14.5" text-anchor="middle" fill="#4d4d4d">1</text>
<text x="272.8" y="985.2" font-size="20" text-anchor="end" fill="#000">0.48</text>
<text x="272.8" y="1038.3" font-size="20" text-anchor="end" fill="#000">0.48</text>
<text fill="#000080"><tspan x="154.30" y="1015.50" font-size="22.2">F</tspan><tspan x="167.86" y="1004.70" font-size="15.5">-</tspan></text>
<text x="2690.3" y="1006.5" font-size="20" fill="#000080">0.48</text>
<text x="2690.3" y="1031.2" font-size="20.3" fill="#000080"> mg/L F</text>
<text x="2784.2" y="993.4" font-size="18.3" text-anchor="middle" fill="#000">0.48</text>
<text x="162.4" y="1060.3" font-size="14.5" text-anchor="middle" fill="#4d4d4d">1</text>
<text x="272.8" y="1061.0" font-size="20" text-anchor="end" fill="#000">0.025</text>
<text x="272.8" y="1114.1" font-size="20" text-anchor="end" fill="#000">0.025</text>
<text fill="#000080"><tspan x="154.30" y="1088.95" font-size="22.2">PO</tspan><tspan x="186.38" y="1095.85" font-size="15.5">4</tspan><tspan x="186.38" y="1078.15" font-size="15.5">3-</tspan><tspan x="200.16" y="1088.95" font-size="22.2">(P)</tspan></text>
<text x="2690.3" y="1082.3" font-size="20" fill="#000080">0.025</text>
<text x="2690.3" y="1107.0" font-size="20.3" fill="#000080"> mgP/L PO4</text>
<text x="2784.2" y="1069.2" font-size="18.3" text-anchor="middle" fill="#000">0.025</text>
<text fill="#000080"><tspan x="158.30" y="1164.00" font-size="22.2">P</tspan><tspan x="173.11" y="1168.00" font-size="15.5">tot</tspan><tspan x="190.34" y="1164.00" font-size="22.2">(P)</tspan></text>
<text x="2690.3" y="1166.5" font-size="20" fill="#7f7f7f">n/a</text>
<text x="162.4" y="1212.0" font-size="14.5" text-anchor="middle" fill="#4d4d4d">1</text>
<text x="272.8" y="1212.8" font-size="20" text-anchor="end" fill="#000">0.28</text>
<text x="272.8" y="1265.8" font-size="20" text-anchor="end" fill="#000">0.28</text>
<text fill="#000080"><tspan x="154.30" y="1238.15" font-size="22.2">NO</tspan><tspan x="187.60" y="1245.05" font-size="15.5">2</tspan><tspan x="187.60" y="1227.35" font-size="15.5">-</tspan><tspan x="196.22" y="1238.15" font-size="22.2">+</tspan><tspan x="211.78" y="1238.15" font-size="22.2">NO</tspan><tspan x="245.08" y="1245.05" font-size="15.5">3</tspan><tspan x="245.08" y="1227.35" font-size="15.5">-</tspan><tspan x="254.70" y="1238.15" font-size="22.2">(N)</tspan></text>
<text x="2690.3" y="1234.0" font-size="20" fill="#000080">0.28</text>
<text x="2690.3" y="1258.8" font-size="20.3" fill="#000080"> mgN/L NO2+3</text>
<text x="2784.2" y="1221.0" font-size="18.3" text-anchor="middle" fill="#000">0.28</text>
<text x="162.4" y="1287.9" font-size="14.5" text-anchor="middle" fill="#4d4d4d">1</text>
<text x="272.8" y="1288.6" font-size="20" text-anchor="end" fill="#000">0.02</text>
<text x="272.8" y="1341.7" font-size="20" text-anchor="end" fill="#000">0.02</text>
<text fill="#000080"><tspan x="154.30" y="1316.10" font-size="22.2">NH</tspan><tspan x="186.36" y="1323.00" font-size="15.5">4</tspan><tspan x="186.36" y="1305.30" font-size="15.5">+</tspan><tspan x="195.41" y="1316.10" font-size="22.2">(N)</tspan></text>
<text x="2690.3" y="1309.9" font-size="20" fill="#000080">0.02</text>
<text x="2690.3" y="1334.6" font-size="20.3" fill="#000080"> mgN/L NH4</text>
<text x="2784.2" y="1296.8" font-size="18.3" text-anchor="middle" fill="#000">0.02</text>
<text fill="#000080"><tspan x="158.30" y="1394.75" font-size="22.2">KjelN(N)</tspan></text>
<text x="2690.3" y="1394.0" font-size="20" fill="#7f7f7f">n/a</text>
<text x="162.4" y="1439.6" font-size="14.5" text-anchor="middle" fill="#4d4d4d">1</text>
<text x="272.8" y="1440.3" font-size="20" text-anchor="end" fill="#000">7.34</text>
<text x="272.8" y="1493.4" font-size="20" text-anchor="end" fill="#000">7.34</text>
<text fill="#000080"><tspan x="154.30" y="1467.75" font-size="22.2">SiO</tspan><tspan x="191.31" y="1471.75" font-size="15.5">2</tspan></text>
<text x="2690.3" y="1461.6" font-size="20" fill="#000080">7.34</text>
<text x="2690.3" y="1486.3" font-size="20.3" fill="#000080"> mg/L Si</text>
<text x="2784.2" y="1448.5" font-size="18.3" text-anchor="middle" fill="#000">7.34</text>
</g>
<text x="166.5" y="134.9" font-size="16.4" text-anchor="middle" fill="#4d4d4d">n</text>
<text x="254.9" y="134.8" font-size="16.4" text-anchor="middle" fill="#000">max</text>
<text x="254.3" y="171.0" font-size="16.4" text-anchor="middle" fill="#000">min</text>
<rect x="504.45" y="20.45" width="207.95" height="167.85" fill="#fff" stroke="#c9c9c9" stroke-width="1.05"/>
<g id="maucha">
<circle cx="608.4" cy="104.0" r="20.4" fill="none" stroke="#dcdcdc" stroke-width="1"/>
<line x1="608.4" y1="83.6" x2="608.4" y2="124.4" stroke="#c9c9d6" stroke-width="1"/>
<polygon points="563.0,85.1 594.2,89.8 608.4,104.0 588.5,104.0" fill="#1ffbfb"/>
<polygon points="608.4,104.0 622.8,90.2 642.1,90.4 628.6,104.0" fill="#ecec14"/>
<polygon points="608.4,104.0 628.6,104.6 633.9,114.8 623.1,119.0" fill="#fb2d0c"/>
<polygon points="608.4,104.4 623.1,119.0 613.3,120.1 608.6,124.8" fill="#ababab"/>
<polygon points="608.4,104.0 608.6,124.8 605.9,111.7 594.5,119.0" fill="#07076e"/>
<polygon points="608.4,104.0 594.2,119.0 585.1,114.0 588.5,104.6" fill="#84c225"/>
<text x="580.5" y="53.1" font-size="16.4" fill="#000">*</text>
<text x="625.0" y="51.6" font-size="16.4" fill="#000">K<tspan dy="-8.0" font-size="11.5">+</tspan></text>
<text x="655.4" y="86.5" font-size="16.4" fill="#000">Na<tspan dy="-8.0" font-size="11.5">+</tspan></text>
<text x="652.0" y="136.7" font-size="16.4" fill="#000">Ca<tspan dy="-8.0" font-size="11.5">++</tspan></text>
<text x="615.4" y="170.8" font-size="16.4" fill="#000">Mg<tspan dy="-8.0" font-size="11.5">++</tspan></text>
<text x="568.7" y="168.5" font-size="16.4" fill="#000">SO<tspan dy="5" font-size="11.5">4</tspan><tspan dy="-12.6" dx="-6.2" font-size="11.5">=</tspan></text>
<text x="539.1" y="135.3" font-size="16.4" fill="#000">Cl<tspan dy="-8.0" font-size="11.5">-</tspan></text>
<text x="533.8" y="86.0" font-size="16.4" fill="#000">TAL</text>
</g>
<rect x="742.5" y="20.45" width="1484.3" height="167.85" fill="#fff" stroke="#c9c9c9" stroke-width="1.05"/>
<text x="1484.6" y="57.9" font-size="30.5" text-anchor="middle" fill="#000">WMS 99844  Wynands- Rivier (dup name 6002)</text>
<text x="1484.1" y="87.7" font-size="24.38" text-anchor="middle" fill="#000">Site at 22°03'07.9"E 33°33'10.9"S, type:unknown. Date:1977-04-27 15:45:00.</text>
<text x="1480.2" y="108.1" font-size="18.31" text-anchor="middle" fill="#000">Variation about the median,  colour-coded according to the combined domestic health and salinity guideline from DWAF 1996, where applicable.</text>
<text x="1484.6" y="129.6" font-size="18.28" text-anchor="middle" fill="#000">Note that this report contains only some of the information required to properly assess a site. Users should seek expert help in interpreting the data.</text>
<text x="1484.6" y="155.7" font-size="18.28" text-anchor="middle" fill="#000">The Maucha diagram to the left summarises the major ions present during the whole monitoring period: the colours are purely cosmetic.</text>
<text x="2289.4" y="56.8" font-size="16.25" fill="#000">Guideline user type is Combined domestic health and salinity</text>
<rect x="2275.9" y="77.7" width="3.2" height="18.6" fill="#c71585"/>
<text x="2289.2" y="90.8" font-size="10.15" fill="#222">harmful</text>
<rect x="2275.9" y="96.1" width="3.2" height="18.6" fill="#800080"/>
<text x="2289.2" y="108.8" font-size="10.15" fill="#222">not acceptable</text>
<rect x="2275.9" y="114.4" width="3.2" height="18.6" fill="#ff0000"/>
<text x="2289.2" y="126.8" font-size="10.15" fill="#222">poor</text>
<rect x="2275.9" y="132.8" width="3.2" height="18.6" fill="#cd9b00"/>
<text x="2289.2" y="144.7" font-size="10.15" fill="#222">fair</text>
<rect x="2275.9" y="151.1" width="3.2" height="18.6" fill="#2e8b57"/>
<text x="2289.2" y="162.7" font-size="10.15" fill="#222">good</text>
<rect x="2275.9" y="169.4" width="3.2" height="18.6" fill="#0000cd"/>
<text x="2289.2" y="180.7" font-size="10.15" fill="#222">very good</text>
<text x="2813.6" y="101.9" font-size="20.3" text-anchor="end" fill="#000">90th percentiles</text>
<line x1="2509.3" y1="129.2" x2="2626.2" y2="129.2" stroke="#a6a6a6" stroke-width="1.2"/>
<text x="2636.6" y="139.0" font-size="24.6" fill="#000080">medians</text>
<text x="2813.5" y="169.9" font-size="18.4" text-anchor="end" fill="#333">10th percentile</text>
<g id="map1"><clipPath id="c1"><rect x="165.1" y="1616.9" width="643.8" height="419.8"/></clipPath><g clip-path="url(#c1)">
<rect x="165.1" y="1616.9" width="643.8" height="419.8" fill="#d9ffff"/>
<polygon points="200.0,1616.7 204.4,1627.8 214.8,1639.6 218.5,1652.9 215.5,1661.8 217.0,1673.7 216.3,1692.9 220.7,1709.2 225.9,1722.5 225.9,1740.3 229.6,1758.1 234.0,1771.4 237.7,1787.7 248.1,1806.2 269.6,1830.6 269.6,1831.1 278.5,1843.7 283.6,1858.5 288.8,1876.3 296.2,1894.0 305.9,1910.3 314.0,1922.2 317.0,1932.5 317.7,1942.9 314.0,1951.1 309.6,1954.8 306.6,1952.5 305.1,1957.0 307.3,1962.9 311.0,1966.6 314.0,1974.0 319.9,1981.4 322.2,1988.8 317.7,1993.3 319.2,1999.9 322.2,2002.1 321.4,1995.5 327.3,1993.3 331.0,1995.5 331.8,2002.1 339.2,2003.6 344.4,2005.1 343.6,2009.5 352.5,2014.7 361.4,2016.2 367.3,2011.0 374.0,2005.8 382.1,2004.4 388.0,2002.9 396.9,2003.6 402.9,2001.4 410.3,2002.1 414.7,1996.2 420.6,1994.0 428.0,1991.8 436.9,1993.3 444.3,1992.5 456.2,1990.3 468.0,1992.5 478.4,1995.5 487.3,1996.2 491.7,1991.8 487.4,1997.7 494.8,1993.3 503.7,1990.3 512.6,1984.4 524.4,1984.4 533.3,1984.4 546.6,1978.4 557.0,1971.8 567.4,1964.4 576.3,1956.2 585.1,1950.3 595.5,1938.5 602.9,1931.1 610.3,1922.2 619.2,1914.8 628.1,1905.9 635.5,1895.5 641.4,1885.2 647.3,1874.8 651.8,1867.4 657.0,1857.8 663.6,1848.9 671.0,1840.7 679.9,1836.3 688.1,1827.4 690.3,1820.0 691.8,1815.8 694.7,1801.0 698.4,1787.7 700.6,1777.3 702.1,1758.1 700.6,1755.9 695.5,1761.0 693.2,1754.4 688.8,1752.9 694.7,1749.2 696.9,1743.3 702.1,1737.4 711.0,1731.4 722.9,1724.8 731.7,1720.3 743.6,1716.6 755.4,1712.2 764.3,1704.8 768.8,1695.9 769.5,1690.0 765.1,1691.4 765.8,1682.6 768.0,1672.2 771.7,1660.3 769.5,1654.4 770.2,1638.1 767.3,1636.7 764.3,1626.3 762.1,1616.7 813.9,1611.9 165.1,1611.9" fill="#888888"/>
<polygon points="248.1,1806.2 250.3,1802.5 259.2,1798.8 256.3,1794.4 262.2,1784.7 265.9,1781.8 267.4,1774.4 272.5,1767.7 274.0,1759.6 268.8,1750.7 270.3,1743.3 274.8,1735.9 270.3,1727.0 263.7,1715.1 265.9,1706.3 268.1,1697.4 271.1,1693.7 265.9,1692.2 265.1,1686.3 260.0,1684.8 263.7,1679.6 270.3,1678.9 271.8,1673.7 270.3,1669.2 274.0,1661.1 278.5,1655.9 288.8,1650.0 287.6,1640.4 294.0,1638.1 297.7,1631.5 306.6,1625.5 315.5,1628.5 322.9,1626.3 327.3,1627.8 333.3,1634.4 338.4,1637.4 339.9,1644.8 344.4,1650.7 352.5,1652.2 362.9,1657.4 371.8,1661.8 386.6,1663.3 396.9,1668.5 404.3,1673.7 417.7,1681.1 428.0,1686.3 434.0,1684.0 444.3,1684.0 453.2,1690.0 459.1,1697.4 458.4,1701.1 463.6,1697.4 471.0,1698.1 478.4,1702.6 485.8,1709.2 491.7,1715.1 496.1,1716.6 496.3,1716.6 498.5,1710.7 503.0,1703.3 499.3,1695.9 495.5,1687.0 497.0,1675.2 495.5,1667.0 503.7,1660.3 514.1,1661.1 515.5,1655.9 523.7,1652.9 525.9,1644.1 531.8,1636.7 527.4,1623.3 528.9,1616.7 528.9,1613.0 658.4,1613.0 658.4,1616.7 665.1,1618.9 669.5,1620.4 671.0,1623.3 677.0,1624.1 681.4,1621.1 683.6,1617.4 685.1,1621.1 693.2,1621.8 702.1,1623.3 706.6,1626.3 712.5,1624.1 718.4,1629.3 724.3,1624.8 729.5,1623.3 731.7,1629.3 736.2,1633.7 739.1,1639.6 745.1,1646.3 751.0,1654.4 754.0,1660.3 755.4,1669.2 759.1,1681.1 756.9,1688.5 746.6,1686.3 732.5,1687.0 730.3,1692.9 729.5,1697.4 730.3,1703.3 724.3,1710.7 728.8,1716.6 727.3,1722.5 722.9,1724.8 722.9,1724.8 711.0,1731.4 702.1,1737.4 696.9,1743.3 694.7,1749.2 688.8,1752.9 693.2,1754.4 695.5,1761.0 700.6,1755.9 702.1,1758.1 700.6,1777.3 698.4,1787.7 694.7,1801.0 691.8,1815.8 690.3,1820.0 688.1,1827.4 679.9,1836.3 671.0,1840.7 663.6,1848.9 657.0,1857.8 651.8,1867.4 647.3,1874.8 641.4,1885.2 635.5,1895.5 628.1,1905.9 619.2,1914.8 610.3,1922.2 602.9,1931.1 595.5,1938.5 585.1,1950.3 576.3,1956.2 567.4,1964.4 557.0,1971.8 546.6,1978.4 533.3,1984.4 524.4,1984.4 512.6,1984.4 503.7,1990.3 494.8,1993.3 487.4,1997.7 491.7,1991.8 487.3,1996.2 478.4,1995.5 468.0,1992.5 456.2,1990.3 444.3,1992.5 436.9,1993.3 428.0,1991.8 420.6,1994.0 414.7,1996.2 410.3,2002.1 402.9,2001.4 396.9,2003.6 388.0,2002.9 382.1,2004.4 374.0,2005.8 367.3,2011.0 361.4,2016.2 352.5,2014.7 343.6,2009.5 344.4,2005.1 339.2,2003.6 331.8,2002.1 331.0,1995.5 327.3,1993.3 321.4,1995.5 322.2,2002.1 319.2,1999.9 317.7,1993.3 322.2,1988.8 319.9,1981.4 314.0,1974.0 311.0,1966.6 307.3,1962.9 305.1,1957.0 306.6,1952.5 309.6,1954.8 314.0,1951.1 317.7,1942.9 317.0,1932.5 314.0,1922.2 305.9,1910.3 296.2,1894.0 288.8,1876.3 283.6,1858.5 278.5,1843.7 269.6,1831.1 269.6,1830.6" fill="#c3c3c3" stroke="#e6e6e6" stroke-width="0.8" stroke-linejoin="round"/>
<polyline points="658.4,1650.0 651.8,1652.2 642.9,1659.6 635.5,1665.5 628.1,1667.0 620.7,1670.0 619.9,1673.7 622.9,1676.6 622.2,1684.0 619.2,1688.5 611.8,1692.9 605.9,1695.9 601.4,1700.3 597.0,1704.8 592.5,1709.2 589.6,1713.7 582.2,1718.8 580.7,1724.0 583.7,1731.4 585.9,1738.8 585.9,1748.5 583.7,1753.6" fill="none" stroke="#f6f6f6" stroke-width="1.5" stroke-linejoin="round" stroke-linecap="round"/>
<polyline points="511.1,1732.9 515.5,1738.8 518.5,1746.2 525.9,1748.5 533.3,1748.5 539.2,1750.7 546.6,1750.7 554.0,1752.2 560.0,1755.9 565.9,1756.6 574.8,1757.3 583.7,1753.6 588.1,1759.6 597.0,1764.0 605.9,1767.7 613.3,1765.5 620.7,1761.0 628.1,1759.6" fill="none" stroke="#f6f6f6" stroke-width="1.5" stroke-linejoin="round" stroke-linecap="round"/>
<polyline points="515.5,1715.1 511.8,1732.9" fill="none" stroke="#f6f6f6" stroke-width="1.2" stroke-linejoin="round" stroke-linecap="round"/>
<polyline points="515.5,1715.1 530.3,1710.7" fill="none" stroke="#e2e2e2" stroke-width="1.0" stroke-linejoin="round" stroke-linecap="round"/>
<polyline points="674.0,1697.4 669.5,1700.3 665.1,1706.3 657.7,1709.2 648.8,1712.2 644.4,1722.5 635.5,1728.5 628.1,1731.4 626.6,1738.8 622.2,1744.8 619.9,1752.2 620.7,1761.0" fill="none" stroke="#f6f6f6" stroke-width="1.5" stroke-linejoin="round" stroke-linecap="round"/>
<polyline points="628.1,1759.6 635.5,1757.3 642.9,1755.9 650.3,1756.6 659.2,1758.1 666.6,1755.1 674.0,1750.7 677.0,1747.7" fill="none" stroke="#f6f6f6" stroke-width="1.5" stroke-linejoin="round" stroke-linecap="round"/>
<polyline points="658.4,1645.5 663.6,1661.8 669.5,1684.0 674.0,1697.4 677.7,1713.7 678.4,1735.9 677.0,1747.7 679.9,1765.5 682.1,1775.9 687.3,1778.1 700.6,1778.1" fill="none" stroke="#e6e6e6" stroke-width="1.0" stroke-linejoin="round" stroke-linecap="round"/>
<polyline points="628.1,1759.6 631.8,1767.0 629.6,1772.9 631.8,1780.3 628.1,1786.2 626.6,1789.9 632.5,1791.4 635.5,1798.1 639.9,1802.5 642.9,1809.9 641.4,1817.3 645.9,1823.2 651.8,1829.2 656.2,1840.0" fill="none" stroke="#f6f6f6" stroke-width="1.5" stroke-linejoin="round" stroke-linecap="round"/>
<polyline points="626.6,1789.9 619.2,1792.1 616.2,1801.0 617.0,1807.0 614.8,1815.8 608.8,1821.8 599.9,1827.7 595.5,1832.1 598.5,1840.0" fill="none" stroke="#f6f6f6" stroke-width="1.5" stroke-linejoin="round" stroke-linecap="round"/>
<polyline points="480.0,1769.2 488.9,1765.5 499.3,1769.9 502.2,1772.9 504.4,1765.5 509.6,1759.6 518.5,1752.2 525.9,1748.5" fill="none" stroke="#f6f6f6" stroke-width="1.5" stroke-linejoin="round" stroke-linecap="round"/>
<polyline points="557.0,1840.0 562.9,1832.1 568.9,1823.2 574.8,1824.7 583.7,1826.2 591.1,1827.7 595.5,1832.1" fill="none" stroke="#f6f6f6" stroke-width="1.5" stroke-linejoin="round" stroke-linecap="round"/>
<polyline points="480.0,1744.8 488.9,1746.2 497.8,1744.8 506.7,1740.3 511.8,1732.9" fill="none" stroke="#e8eef6" stroke-width="1.6" stroke-linejoin="round" stroke-linecap="round"/>
<polyline points="595.5,1833.3 601.4,1839.3 607.4,1846.7 608.8,1851.8 605.9,1857.8 602.9,1862.9 601.4,1867.4 595.5,1871.8 586.6,1875.5 580.7,1877.8 577.0,1882.2 575.5,1889.6 573.3,1900.0 568.9,1908.9 565.1,1916.3 564.4,1923.7 568.9,1929.6 577.7,1934.0 578.5,1941.4 580.7,1948.8 583.7,1950.3" fill="none" stroke="#f6f6f6" stroke-width="1.5" stroke-linejoin="round" stroke-linecap="round"/>
<polyline points="608.8,1851.8 617.7,1855.5 625.1,1851.8 634.0,1846.7 639.9,1840.7 647.3,1840.7 651.8,1844.4 657.7,1845.2 663.6,1848.1" fill="none" stroke="#f6f6f6" stroke-width="1.5" stroke-linejoin="round" stroke-linecap="round"/>
<polyline points="641.4,1820.0 648.8,1824.4 653.3,1831.8 657.7,1839.3 663.6,1848.1" fill="none" stroke="#f6f6f6" stroke-width="1.5" stroke-linejoin="round" stroke-linecap="round"/>
<polyline points="605.9,1857.8 613.3,1862.9 619.2,1868.9 625.1,1876.3 629.6,1880.7 631.0,1886.6 637.0,1892.6" fill="none" stroke="#f6f6f6" stroke-width="1.5" stroke-linejoin="round" stroke-linecap="round"/>
<polyline points="595.5,1833.3 598.5,1828.9 607.4,1824.4 613.3,1820.0" fill="none" stroke="#f6f6f6" stroke-width="1.5" stroke-linejoin="round" stroke-linecap="round"/>
<polyline points="480.0,1854.1 488.9,1860.0 497.8,1864.4 503.7,1873.3 508.1,1879.2 515.5,1879.2 521.5,1874.8 527.4,1871.8 533.3,1864.4 537.8,1860.0 543.7,1855.5 545.2,1848.1 551.1,1845.2 558.5,1837.8 562.9,1833.3 568.9,1824.4 574.8,1824.4 583.7,1826.7 589.6,1827.4 595.5,1833.3" fill="none" stroke="#f6f6f6" stroke-width="1.5" stroke-linejoin="round" stroke-linecap="round"/>
<polyline points="484.4,1917.7 490.4,1911.8 497.8,1907.4 505.2,1904.4 509.6,1907.4 517.0,1907.4 522.2,1914.8 524.4,1919.2 530.3,1916.3 537.8,1913.3 545.2,1911.8 552.6,1910.3 560.0,1908.9 568.9,1908.9" fill="none" stroke="#f6f6f6" stroke-width="1.5" stroke-linejoin="round" stroke-linecap="round"/>
<polyline points="524.4,1919.2 527.4,1926.6 530.3,1937.0 530.3,1942.9 539.2,1945.9 543.7,1948.8 539.2,1953.3 540.7,1960.7 545.2,1966.6 548.1,1974.0" fill="none" stroke="#f6f6f6" stroke-width="1.5" stroke-linejoin="round" stroke-linecap="round"/>
<polyline points="543.7,1948.8 551.1,1947.4 562.9,1948.8 574.8,1951.1 582.2,1950.3" fill="none" stroke="#f6f6f6" stroke-width="1.5" stroke-linejoin="round" stroke-linecap="round"/>
<polyline points="484.4,1917.7 485.9,1923.7 491.1,1929.6 491.8,1938.5 499.3,1945.9 502.2,1953.3 503.7,1960.7 508.1,1965.1 515.5,1965.1 522.9,1964.4 531.8,1962.2" fill="none" stroke="#f6f6f6" stroke-width="1.5" stroke-linejoin="round" stroke-linecap="round"/>
<polyline points="508.1,1965.1 511.1,1969.6 518.5,1971.0 517.8,1982.9" fill="none" stroke="#f6f6f6" stroke-width="1.5" stroke-linejoin="round" stroke-linecap="round"/>
<polyline points="480.0,1972.5 488.9,1974.0 491.1,1981.4 487.4,1987.3 480.0,1987.3" fill="none" stroke="#f6f6f6" stroke-width="1.5" stroke-linejoin="round" stroke-linecap="round"/>
<polyline points="269.6,1831.1 278.5,1830.4 284.4,1827.4 288.8,1830.4 290.3,1836.3 296.2,1842.2 300.7,1846.7 304.4,1848.1 306.6,1855.5 309.6,1859.2 317.0,1860.7 322.9,1862.9 324.4,1867.4 321.4,1871.8 322.9,1876.3 320.7,1882.2 325.9,1889.6 322.9,1894.0 317.0,1898.5 315.5,1904.4 317.7,1908.9 315.5,1914.8 314.0,1919.2" fill="none" stroke="#f6f6f6" stroke-width="1.5" stroke-linejoin="round" stroke-linecap="round"/>
<polyline points="322.9,1876.3 330.3,1873.3 337.7,1870.3 342.9,1865.9 345.1,1868.9 342.1,1876.3 345.1,1880.7 352.5,1886.6 357.0,1892.6 361.4,1895.5 359.9,1902.9 362.9,1908.9 357.0,1913.3 362.9,1919.2 365.1,1923.7 361.4,1929.6 367.3,1934.0 370.3,1942.9 373.2,1948.8 382.1,1950.3 388.0,1951.1" fill="none" stroke="#f6f6f6" stroke-width="1.5" stroke-linejoin="round" stroke-linecap="round"/>
<polyline points="314.0,1919.2 319.9,1922.2 325.9,1929.6 330.3,1939.9 334.7,1950.3 337.7,1959.2 342.1,1965.1 351.0,1969.6 358.4,1971.0" fill="none" stroke="#f6f6f6" stroke-width="1.5" stroke-linejoin="round" stroke-linecap="round"/>
<polyline points="334.7,1991.8 339.2,1988.8 340.7,1993.3 349.5,1996.2 357.0,1999.2 367.3,1997.7 376.2,2002.1 383.6,2003.6" fill="none" stroke="#f6f6f6" stroke-width="1.5" stroke-linejoin="round" stroke-linecap="round"/>
<polyline points="425.1,1928.1 431.0,1919.2 438.4,1917.0 444.3,1922.2 450.2,1918.5 456.2,1916.3 463.6,1919.2 469.5,1922.2 471.0,1925.1 485.8,1922.2 485.0,1916.3 491.7,1910.3 500.0,1907.4" fill="none" stroke="#f6f6f6" stroke-width="1.5" stroke-linejoin="round" stroke-linecap="round"/>
<polyline points="425.1,1928.1 426.6,1932.5 431.0,1937.0 433.2,1943.6" fill="none" stroke="#f6f6f6" stroke-width="1.5" stroke-linejoin="round" stroke-linecap="round"/>
<polyline points="469.5,1922.2 468.8,1931.1 462.8,1939.9 464.3,1948.8 471.0,1953.3 473.9,1960.7 481.3,1966.6 490.2,1971.0 491.7,1979.9 490.2,1985.9" fill="none" stroke="#f6f6f6" stroke-width="1.5" stroke-linejoin="round" stroke-linecap="round"/>
<polyline points="453.9,1972.5 462.1,1977.0 471.0,1979.9 479.9,1981.4 485.8,1982.9 490.2,1985.9 500.0,1987.3" fill="none" stroke="#f6f6f6" stroke-width="1.5" stroke-linejoin="round" stroke-linecap="round"/>
<polyline points="450.2,1820.0 454.7,1834.8 457.6,1843.7 471.0,1849.6 478.4,1854.1 485.8,1860.0 493.2,1862.9 500.0,1864.4" fill="none" stroke="#f6f6f6" stroke-width="1.5" stroke-linejoin="round" stroke-linecap="round"/>
<polyline points="500.0,1769.9 491.7,1765.5 482.8,1767.0 473.9,1772.9 469.5,1780.3 471.0,1789.2 463.6,1798.1 456.2,1805.5 451.7,1815.8 452.5,1829.2 454.7,1840.0" fill="none" stroke="#f6f6f6" stroke-width="1.5" stroke-linejoin="round" stroke-linecap="round"/>
<polyline points="269.6,1830.6 278.5,1832.1 284.4,1827.7 288.8,1830.6 290.3,1840.0" fill="none" stroke="#f6f6f6" stroke-width="1.5" stroke-linejoin="round" stroke-linecap="round"/>
<polyline points="361.8,1823.6 361.8,1715.5 369.2,1719.9 376.6,1733.3 384.0,1751.0 378.0,1762.9 378.0,1776.2 386.9,1777.7" fill="none" stroke="#dcdcdc" stroke-width="1.0" stroke-linejoin="round" stroke-linecap="round"/>
<polyline points="517.2,1714.0 538.0,1709.6" fill="none" stroke="#e0e0e0" stroke-width="1.0" stroke-linejoin="round" stroke-linecap="round"/>
<polyline points="268.5,1829.5 277.4,1817.7 287.7,1814.7 293.6,1828.0 309.9,1836.9 339.5,1838.4 351.4,1828.0 363.2,1825.1 375.1,1834.0 392.9,1829.5 404.7,1825.1 413.6,1836.9 428.4,1854.7 435.8,1860.6 446.2,1866.6 458.0,1845.8 475.8,1829.5" fill="none" stroke="#5d86b0" stroke-width="0.9" stroke-linejoin="round" stroke-linecap="round"/>
<polyline points="363.2,1825.1 367.7,1813.2 366.2,1792.5 376.6,1780.7 386.9,1777.7 407.7,1776.2 418.0,1765.9 431.4,1748.1 438.8,1733.3 449.1,1730.3 463.9,1737.7 478.7,1745.1 496.5,1746.6 509.8,1730.3 517.2,1714.0 535.0,1697.7 546.9,1680.0 564.6,1665.2 579.4,1650.3 606.1,1638.5 629.8,1638.5 656.4,1644.4" fill="none" stroke="#8fb0d0" stroke-width="0.9" stroke-linejoin="round" stroke-linecap="round"/>
<polyline points="458.0,1845.8 472.8,1851.7 481.7,1868.0" fill="none" stroke="#5d86b0" stroke-width="0.8" stroke-linejoin="round" stroke-linecap="round"/>
<polyline points="392.9,1829.5 395.8,1851.7 384.0,1866.6 375.1,1884.3 372.1,1902.1 384.0,1913.9 398.8,1913.9 407.7,1922.8" fill="none" stroke="#8fb0d0" stroke-width="0.7" stroke-linejoin="round" stroke-linecap="round"/>
<polyline points="435.8,1860.6 443.2,1872.5 447.6,1890.2 455.1,1908.0" fill="none" stroke="#8fb0d0" stroke-width="0.7" stroke-linejoin="round" stroke-linecap="round"/>
<polyline points="301.0,1742.2 307.0,1759.9 302.5,1777.7 299.6,1801.4 292.2,1816.2 287.7,1825.1" fill="none" stroke="#8fb0d0" stroke-width="0.7" stroke-linejoin="round" stroke-linecap="round"/>
<polyline points="659.4,1648.9 671.3,1668.1 683.1,1685.9 700.9,1703.7 715.7,1715.5 720.1,1724.4" fill="none" stroke="#5d86b0" stroke-width="0.8" stroke-linejoin="round" stroke-linecap="round"/>
<polyline points="606.1,1694.8 623.9,1697.7 641.6,1702.2 671.3,1691.8" fill="none" stroke="#8fb0d0" stroke-width="0.7" stroke-linejoin="round" stroke-linecap="round"/>
<polyline points="515.5,1715.1 531.8,1698.9 542.2,1694.4 545.2,1684.0 557.0,1673.7 565.9,1667.8 574.8,1654.4 586.6,1648.5 598.5,1639.6 613.3,1636.7 628.1,1641.1 642.9,1641.8 657.7,1644.8" fill="none" stroke="#e4ecf6" stroke-width="1.7" stroke-linejoin="round" stroke-linecap="round"/>
<polyline points="515.5,1715.1 531.8,1698.9 542.2,1694.4 545.2,1684.0 557.0,1673.7 565.9,1667.8 574.8,1654.4 586.6,1648.5 598.5,1639.6 613.3,1636.7 628.1,1641.1 642.9,1641.8 657.7,1644.8" fill="none" stroke="#86a8cc" stroke-width="0.6" stroke-linejoin="round" stroke-linecap="round"/>
<polyline points="659.2,1645.5 672.5,1654.4 684.4,1669.2 690.3,1684.0 699.2,1698.9 711.0,1710.7 718.4,1716.6 719.9,1724.0" fill="none" stroke="#3f6a9c" stroke-width="0.9" stroke-linejoin="round" stroke-linecap="round"/>
<polyline points="586.6,1743.3 604.4,1738.8 608.8,1722.5 611.8,1707.7 628.1,1704.8 644.4,1698.9 657.7,1692.9 672.5,1690.7" fill="none" stroke="#5d86b0" stroke-width="0.8" stroke-linejoin="round" stroke-linecap="round"/>
<polyline points="543.7,1698.9 555.5,1712.2 560.0,1722.5 568.9,1727.0" fill="none" stroke="#6f94bc" stroke-width="0.7" stroke-linejoin="round" stroke-linecap="round"/>
<polyline points="564.4,1669.2 565.9,1690.0 574.8,1704.8" fill="none" stroke="#8fb0d0" stroke-width="0.6" stroke-linejoin="round" stroke-linecap="round"/>
<polyline points="589.6,1654.4 588.8,1672.2 589.6,1687.0" fill="none" stroke="#9bb8d6" stroke-width="0.6" stroke-linejoin="round" stroke-linecap="round"/>
<polyline points="613.3,1654.4 614.8,1672.2 616.2,1681.1" fill="none" stroke="#9bb8d6" stroke-width="0.6" stroke-linejoin="round" stroke-linecap="round"/>
<polyline points="480.0,1827.7 485.9,1817.3 499.3,1807.0 509.6,1801.0 521.5,1802.5 530.3,1793.6 531.8,1786.2 545.2,1780.3 557.0,1774.4 570.3,1772.9 583.7,1781.8 598.5,1782.5 608.8,1777.3 622.2,1775.9" fill="none" stroke="#41699a" stroke-width="0.9" stroke-linejoin="round" stroke-linecap="round"/>
<polyline points="583.7,1781.8 586.6,1795.1 594.0,1807.0 598.5,1820.3" fill="none" stroke="#6f94bc" stroke-width="0.7" stroke-linejoin="round" stroke-linecap="round"/>
<polyline points="521.5,1802.5 530.3,1814.4 534.8,1823.2 545.2,1832.1" fill="none" stroke="#6f94bc" stroke-width="0.7" stroke-linejoin="round" stroke-linecap="round"/>
<polyline points="642.9,1771.4 657.7,1772.9 672.5,1771.4 684.4,1775.9 693.2,1764.0" fill="none" stroke="#8fb0d0" stroke-width="0.6" stroke-linejoin="round" stroke-linecap="round"/>
<polyline points="642.9,1790.7 657.7,1795.1 672.5,1796.6 684.4,1787.7" fill="none" stroke="#8fb0d0" stroke-width="0.6" stroke-linejoin="round" stroke-linecap="round"/>
<polyline points="647.3,1817.3 662.1,1820.3 677.0,1824.7 687.3,1823.2" fill="none" stroke="#8fb0d0" stroke-width="0.6" stroke-linejoin="round" stroke-linecap="round"/>
<polyline points="605.9,1832.1 622.2,1830.6 637.0,1835.1 650.3,1840.0" fill="none" stroke="#5d86b0" stroke-width="0.7" stroke-linejoin="round" stroke-linecap="round"/>
<polyline points="480.0,1842.2 488.9,1848.1 497.8,1854.1 509.6,1861.5 518.5,1864.4 528.9,1864.4" fill="none" stroke="#5d86b0" stroke-width="0.8" stroke-linejoin="round" stroke-linecap="round"/>
<polyline points="480.0,1868.9 491.8,1879.2 500.7,1885.2 512.6,1892.6 524.4,1888.1 539.2,1885.2 554.0,1882.2 568.9,1876.3 577.7,1870.3 589.6,1871.8" fill="none" stroke="#46709f" stroke-width="0.9" stroke-linejoin="round" stroke-linecap="round"/>
<polyline points="583.7,1902.9 592.5,1907.4 602.9,1911.8 611.8,1919.2" fill="none" stroke="#46709f" stroke-width="0.8" stroke-linejoin="round" stroke-linecap="round"/>
<polyline points="571.8,1923.7 583.7,1928.1 592.5,1934.0 598.5,1938.5" fill="none" stroke="#5d86b0" stroke-width="0.7" stroke-linejoin="round" stroke-linecap="round"/>
<polyline points="611.8,1870.3 620.7,1879.2 628.1,1886.6 634.0,1891.1" fill="none" stroke="#5d86b0" stroke-width="0.7" stroke-linejoin="round" stroke-linecap="round"/>
<polyline points="617.7,1830.4 628.1,1834.8 642.9,1834.1 654.7,1842.2 663.6,1848.1" fill="none" stroke="#5d86b0" stroke-width="0.7" stroke-linejoin="round" stroke-linecap="round"/>
<polyline points="497.8,1917.7 503.7,1926.6 511.1,1938.5 515.5,1950.3 514.1,1959.2 522.9,1966.6 536.3,1965.1 545.2,1968.1" fill="none" stroke="#6f94bc" stroke-width="0.7" stroke-linejoin="round" stroke-linecap="round"/>
<polyline points="534.8,1922.2 545.2,1929.6 557.0,1937.0 568.9,1944.4 577.7,1948.8" fill="none" stroke="#5d86b0" stroke-width="0.7" stroke-linejoin="round" stroke-linecap="round"/>
<polyline points="308.1,1922.2 317.0,1917.7 325.9,1911.8 334.7,1902.9 339.2,1894.0 346.6,1889.6" fill="none" stroke="#6f94bc" stroke-width="0.7" stroke-linejoin="round" stroke-linecap="round"/>
<polyline points="317.0,1917.7 327.3,1926.6 337.7,1928.1 346.6,1934.0 351.0,1944.4 357.0,1953.3" fill="none" stroke="#6f94bc" stroke-width="0.7" stroke-linejoin="round" stroke-linecap="round"/>
<polyline points="394.0,1854.1 391.0,1862.9 379.2,1871.8 373.2,1885.2 371.8,1898.5 377.7,1907.4 388.0,1911.8 399.9,1917.7 410.3,1922.2" fill="none" stroke="#5d86b0" stroke-width="0.7" stroke-linejoin="round" stroke-linecap="round"/>
<polyline points="441.4,1860.0 447.3,1876.3 448.8,1891.1 447.3,1908.9" fill="none" stroke="#8fb0d0" stroke-width="0.6" stroke-linejoin="round" stroke-linecap="round"/>
<polyline points="308.1,1956.2 319.9,1960.7 330.3,1962.2 337.7,1971.0 346.6,1979.9" fill="none" stroke="#8fb0d0" stroke-width="0.6" stroke-linejoin="round" stroke-linecap="round"/>
<polyline points="379.2,1834.8 388.0,1843.7 394.0,1854.1 394.0,1862.9 402.9,1873.3 414.7,1883.7 420.6,1894.0" fill="none" stroke="#6f94bc" stroke-width="0.7" stroke-linejoin="round" stroke-linecap="round"/>
<polyline points="456.2,1843.7 465.1,1854.1 476.9,1864.4 488.7,1876.3 500.0,1885.2" fill="none" stroke="#46709f" stroke-width="0.8" stroke-linejoin="round" stroke-linecap="round"/>
<polyline points="299.2,1725.5 299.9,1737.4 309.6,1748.5 302.2,1764.0 302.9,1772.9 299.9,1786.2 300.7,1796.6 294.8,1809.9 290.3,1815.8 281.4,1813.6 277.0,1823.2 269.6,1829.2" fill="none" stroke="#5d86b0" stroke-width="0.8" stroke-linejoin="round" stroke-linecap="round"/>
<polyline points="321.4,1774.4 311.0,1778.8 300.7,1787.7" fill="none" stroke="#8fb0d0" stroke-width="0.6" stroke-linejoin="round" stroke-linecap="round"/>
<polyline points="346.6,1736.6 357.0,1740.3 367.3,1750.7 376.2,1758.1 377.7,1767.0" fill="none" stroke="#8fb0d0" stroke-width="0.6" stroke-linejoin="round" stroke-linecap="round"/>
<polyline points="379.2,1780.3 391.0,1782.5 402.9,1783.3 414.7,1777.3 425.1,1772.9 434.0,1781.8 439.9,1786.2 447.3,1783.3 456.2,1789.2" fill="none" stroke="#6f94bc" stroke-width="0.7" stroke-linejoin="round" stroke-linecap="round"/>
<polyline points="439.9,1786.2 436.9,1796.6 439.9,1807.0" fill="none" stroke="#8fb0d0" stroke-width="0.6" stroke-linejoin="round" stroke-linecap="round"/>
<polyline points="425.1,1772.9 434.0,1769.2 445.8,1772.9 456.2,1777.3" fill="none" stroke="#8fb0d0" stroke-width="0.6" stroke-linejoin="round" stroke-linecap="round"/>
<polygon points="354.0,1971.0 364.4,1968.1 374.7,1965.9 376.2,1959.2 380.6,1953.3 388.0,1951.1 391.0,1946.6 399.9,1942.9 402.9,1937.0 410.3,1934.8 414.7,1931.8 420.6,1934.0 426.6,1938.5 432.5,1938.5 433.2,1943.6 431.0,1948.8 430.3,1954.8 426.6,1959.9 434.0,1960.7 441.4,1962.9 448.8,1968.1 453.9,1972.5 456.9,1975.5 452.5,1979.2 444.3,1982.9 435.4,1984.4 426.6,1984.4 417.7,1985.9 411.7,1988.1 410.3,1994.7 411.7,1999.9 408.8,2001.4 404.3,1999.9 400.6,1993.3 397.7,1988.8 388.0,1988.1 379.2,1987.3 374.7,1982.9 367.3,1980.7 359.9,1977.0 355.5,1974.0" fill="#ffffff" stroke="#e4e4e4" stroke-width="2.2" stroke-linejoin="round"/>
<polyline points="391.0,1947.4 393.2,1957.7 391.0,1966.6 395.5,1974.0 402.9,1981.4 405.8,1985.9" fill="none" stroke="#a0a0a0" stroke-width="0.9" stroke-linejoin="round" stroke-linecap="round"/>
<polyline points="426.6,1959.9 428.0,1966.6 420.6,1970.3 414.7,1974.0" fill="none" stroke="#a0a0a0" stroke-width="0.9" stroke-linejoin="round" stroke-linecap="round"/>
<polyline points="410.3,1945.9 411.7,1953.3 410.3,1962.2 406.6,1974.0 405.1,1982.9 406.6,1994.7" fill="none" stroke="#a8c4e0" stroke-width="0.6" stroke-linejoin="round" stroke-linecap="round"/>
<polyline points="361.4,1972.5 374.7,1977.0 391.0,1980.7 404.3,1982.9 420.6,1979.2 435.4,1976.2 448.8,1974.0" fill="none" stroke="#b8d0e8" stroke-width="0.6" stroke-linejoin="round" stroke-linecap="round"/>
<polyline points="200.0,1616.7 204.4,1627.8 214.8,1639.6 218.5,1652.9 215.5,1661.8 217.0,1673.7 216.3,1692.9 220.7,1709.2 225.9,1722.5 225.9,1740.3 229.6,1758.1 234.0,1771.4 237.7,1787.7 248.1,1806.2 269.6,1830.6 269.6,1831.1 278.5,1843.7 283.6,1858.5 288.8,1876.3 296.2,1894.0 305.9,1910.3 314.0,1922.2 317.0,1932.5 317.7,1942.9 314.0,1951.1 309.6,1954.8 306.6,1952.5 305.1,1957.0 307.3,1962.9 311.0,1966.6 314.0,1974.0 319.9,1981.4 322.2,1988.8 317.7,1993.3 319.2,1999.9 322.2,2002.1 321.4,1995.5 327.3,1993.3 331.0,1995.5 331.8,2002.1 339.2,2003.6 344.4,2005.1 343.6,2009.5 352.5,2014.7 361.4,2016.2 367.3,2011.0 374.0,2005.8 382.1,2004.4 388.0,2002.9 396.9,2003.6 402.9,2001.4 410.3,2002.1 414.7,1996.2 420.6,1994.0 428.0,1991.8 436.9,1993.3 444.3,1992.5 456.2,1990.3 468.0,1992.5 478.4,1995.5 487.3,1996.2 491.7,1991.8 487.4,1997.7 494.8,1993.3 503.7,1990.3 512.6,1984.4 524.4,1984.4 533.3,1984.4 546.6,1978.4 557.0,1971.8 567.4,1964.4 576.3,1956.2 585.1,1950.3 595.5,1938.5 602.9,1931.1 610.3,1922.2 619.2,1914.8 628.1,1905.9 635.5,1895.5 641.4,1885.2 647.3,1874.8 651.8,1867.4 657.0,1857.8 663.6,1848.9 671.0,1840.7 679.9,1836.3 688.1,1827.4 690.3,1820.0 691.8,1815.8 694.7,1801.0 698.4,1787.7 700.6,1777.3 702.1,1758.1 700.6,1755.9 695.5,1761.0 693.2,1754.4 688.8,1752.9 694.7,1749.2 696.9,1743.3 702.1,1737.4 711.0,1731.4 722.9,1724.8 731.7,1720.3 743.6,1716.6 755.4,1712.2 764.3,1704.8 768.8,1695.9 769.5,1690.0 765.1,1691.4 765.8,1682.6 768.0,1672.2 771.7,1660.3 769.5,1654.4 770.2,1638.1 767.3,1636.7 764.3,1626.3 762.1,1616.7" fill="none" stroke="#00ffff" stroke-width="1.3" stroke-linejoin="round" stroke-linecap="round"/>
<text x="567.6" y="1706.0" font-size="29" fill="#585858">A</text>
<text x="615.9" y="1719.1" font-size="29" fill="#585858">B</text>
<text x="642.6" y="1745.1" font-size="29" fill="#585858">X</text>
<text x="649.1" y="1804.4" font-size="29" fill="#585858">W</text>
<text x="524.7" y="1816.2" font-size="29" fill="#585858">C</text>
<text x="616.5" y="1837.0" font-size="29" fill="#585858">V</text>
<text x="625.4" y="1871.9" font-size="29" fill="#585858">U</text>
<text x="589.3" y="1914.0" font-size="29" fill="#585858">T</text>
<text x="542.5" y="1940.6" font-size="29" fill="#585858">S</text>
<text x="502.5" y="1948.9" font-size="29" fill="#585858">Q</text>
<text x="546.9" y="1968.8" font-size="29" fill="#585858">R</text>
<text x="517.3" y="1984.5" font-size="29" fill="#585858">P</text>
<text x="477.1" y="1963.1" font-size="29" fill="#585858">N</text>
<text x="489.7" y="1995.8" font-size="29" fill="#585858">M</text>
<text x="448.9" y="1963.8" font-size="29" fill="#585858">L</text>
<text x="428.8" y="1858.5" font-size="29" fill="#585858">D</text>
<text x="293.0" y="1882.2" font-size="29" fill="#585858">F</text>
<text x="335.5" y="1934.3" font-size="29" fill="#585858">E</text>
<text x="321.4" y="1984.4" font-size="29" fill="#585858">G</text>
<text x="355.5" y="2000.4" font-size="29" fill="#585858">H</text>
<text x="399.1" y="1978.4" font-size="29" fill="#585858">J</text>
<text x="441.3" y="2001.0" font-size="29" fill="#585858">K</text>
<circle cx="415.7" cy="1978.2" r="4.4" fill="#ff0000"/>
<text x="698.3" y="2028.8" font-size="19.8" fill="#000">J</text>
</g></g>
<g id="map2"><clipPath id="c2"><rect x="825.1" y="1616.9" width="643.1" height="419.8"/></clipPath><g clip-path="url(#c2)">
<rect x="825.1" y="1616.9" width="643.1" height="419.8" fill="#b1b1b1"/>
<polygon points="821.8,1611.8 1104.7,1611.8 1103.2,1638.5 1107.6,1644.4 1135.8,1674.0 1135.8,1748.1 1106.2,1777.7 1017.3,1866.6 958.1,1970.2 943.3,1990.9 924.0,1995.1 907.7,2004.3 904.8,2023.5 894.4,2038.3 821.8,2038.3" fill="#c3c3c3"/>
<polyline points="1307.6,1711.1 1325.3,1714.0 1340.1,1711.1 1357.9,1721.4 1372.7,1706.6 1390.5,1700.7 1393.4,1685.9 1414.2,1684.4 1426.0,1688.9 1429.0,1702.2 1446.8,1700.7 1468.1,1696.3" fill="none" stroke="#c6c6c6" stroke-width="0.9" stroke-linejoin="round" stroke-linecap="round"/>
<polyline points="1390.5,1616.9 1396.4,1638.5 1402.3,1647.4 1399.4,1668.1 1393.4,1685.9" fill="none" stroke="#c6c6c6" stroke-width="0.9" stroke-linejoin="round" stroke-linecap="round"/>
<polyline points="1411.2,1828.0 1432.0,1819.2 1455.6,1813.2 1468.1,1795.5" fill="none" stroke="#c6c6c6" stroke-width="0.9" stroke-linejoin="round" stroke-linecap="round"/>
<polyline points="1443.8,1851.7 1468.1,1848.8" fill="none" stroke="#c6c6c6" stroke-width="0.9" stroke-linejoin="round" stroke-linecap="round"/>
<polyline points="1135.8,1985.0 1138.7,2008.7 1147.6,2020.6 1156.5,2036.6" fill="none" stroke="#c6c6c6" stroke-width="0.9" stroke-linejoin="round" stroke-linecap="round"/>
<polyline points="1239.4,1977.6 1242.4,1996.9 1248.3,2008.7 1245.4,2036.6" fill="none" stroke="#c6c6c6" stroke-width="0.9" stroke-linejoin="round" stroke-linecap="round"/>
<polyline points="1239.4,1977.6 1254.3,1973.2 1272.0,1976.1 1283.9,1993.9 1295.7,2002.8 1289.8,2020.6 1295.7,2036.6" fill="none" stroke="#c6c6c6" stroke-width="0.9" stroke-linejoin="round" stroke-linecap="round"/>
<polyline points="1366.8,1973.2 1372.7,1985.0 1366.8,1999.8 1381.6,2014.6 1372.7,2036.6" fill="none" stroke="#c6c6c6" stroke-width="0.9" stroke-linejoin="round" stroke-linecap="round"/>
<polyline points="975.9,1996.9 981.8,2014.6 987.7,2026.5 990.7,2036.6" fill="none" stroke="#c6c6c6" stroke-width="0.9" stroke-linejoin="round" stroke-linecap="round"/>
<polyline points="1008.4,2004.3 1020.3,2020.6 1017.3,2036.6" fill="none" stroke="#c6c6c6" stroke-width="0.9" stroke-linejoin="round" stroke-linecap="round"/>
<polyline points="1384.6,2036.6 1399.4,2014.6 1432.0,2005.7 1449.7,1996.9" fill="none" stroke="#c6c6c6" stroke-width="0.9" stroke-linejoin="round" stroke-linecap="round"/>
<polyline points="825.1,1927.3 839.6,1925.8 850.0,1928.7" fill="none" stroke="#d0d0d0" stroke-width="0.9" stroke-linejoin="round" stroke-linecap="round"/>
<polyline points="825.1,1961.3 836.7,1964.3 839.6,1973.2 833.7,1988.0 827.8,2008.7 825.1,2014.6" fill="none" stroke="#d6d6d6" stroke-width="0.9" stroke-linejoin="round" stroke-linecap="round"/>
<polyline points="1313.5,1955.4 1331.3,1959.8 1343.1,1970.2 1363.8,1968.7 1390.5,1974.7 1414.2,1968.7 1429.0,1979.1 1446.8,1990.9 1468.1,1996.9" fill="none" stroke="#f2f2f2" stroke-width="1.3" stroke-linejoin="round" stroke-linecap="round"/>
<polyline points="922.5,1995.4 907.7,2004.3 904.8,2023.5 894.4,2036.6" fill="none" stroke="#f2f2f2" stroke-width="1.3" stroke-linejoin="round" stroke-linecap="round"/>
<polyline points="1104.7,1616.9 1103.2,1635.5 1106.2,1642.9" fill="none" stroke="#f2f2f2" stroke-width="1.2" stroke-linejoin="round" stroke-linecap="round"/>
<polyline points="927.0,1616.9 931.4,1638.5 935.9,1677.0 927.0,1694.8 913.7,1722.9 892.9,1739.2 872.2,1754.0 857.4,1774.7 839.6,1777.7 825.1,1785.1" fill="none" stroke="#8ba7c6" stroke-width="0.9" stroke-linejoin="round" stroke-linecap="round"/>
<polyline points="913.7,1722.9 928.5,1736.2 952.2,1739.2" fill="none" stroke="#9db8d4" stroke-width="0.8" stroke-linejoin="round" stroke-linecap="round"/>
<polyline points="825.1,1866.6 839.6,1881.4 845.5,1899.1 848.5,1925.8 839.6,1943.6 832.2,1958.4 848.5,1946.5 857.4,1964.3 860.3,1979.1 845.5,1985.0 836.7,1999.8 827.8,2014.6 829.3,2036.6" fill="none" stroke="#4f79a6" stroke-width="1.0" stroke-linejoin="round" stroke-linecap="round"/>
<polygon points="1106.2,1642.9 1123.9,1647.4 1144.7,1645.9 1159.5,1653.3 1180.2,1654.8 1195.0,1663.7 1206.9,1671.1 1221.7,1671.1 1233.5,1685.9 1245.4,1688.9 1257.2,1703.7 1272.0,1705.1 1289.8,1709.6 1307.6,1711.1 1301.6,1724.4 1304.6,1739.2 1313.5,1751.0 1325.3,1761.4 1340.1,1765.9 1346.1,1757.0 1363.8,1758.4 1390.5,1759.9 1392.9,1761.7 1369.8,1768.8 1368.3,1777.7 1372.7,1789.5 1375.7,1807.3 1390.5,1811.8 1405.3,1813.2 1411.2,1828.0 1434.9,1829.5 1436.4,1845.8 1443.8,1851.7 1434.9,1863.6 1434.9,1875.4 1430.5,1890.2 1411.2,1899.1 1390.5,1905.1 1372.7,1911.0 1354.9,1916.9 1340.1,1919.9 1340.1,1931.7 1325.3,1940.6 1310.5,1943.6 1313.5,1955.4 1301.6,1958.4 1283.9,1953.9 1260.2,1952.4 1242.4,1948.0 1218.7,1951.0 1218.7,1964.3 1230.6,1970.2 1235.0,1977.6 1218.7,1979.1 1203.9,1983.5 1187.6,1986.5 1183.2,1979.1 1165.4,1980.6 1144.7,1982.1 1123.9,1988.0 1109.1,1992.4 1094.3,1993.9 1079.5,2007.2 1070.6,2005.7 1061.7,1998.3 1046.9,2010.2 1035.1,2007.2 1023.2,2001.3 1008.4,2004.3 993.6,1998.3 978.8,1996.9 974.4,1989.5 961.0,1992.4 955.1,2002.8 949.2,2001.3 940.3,1993.9 922.5,1995.4 922.5,1982.1 931.4,1976.1 932.9,1961.3 922.5,1951.0 912.2,1948.0 895.9,1946.5 881.1,1945.0 866.3,1942.1 854.4,1936.1 850.0,1928.7 858.9,1908.0 864.8,1893.2 872.2,1878.4 876.6,1860.6 878.1,1854.7 891.4,1853.2 892.9,1842.9 888.5,1831.0 885.5,1820.6 904.8,1811.8 919.6,1811.8 937.4,1807.3 955.1,1804.4 972.9,1801.4 987.7,1795.5 1004.0,1794.0 1011.4,1798.4 1026.2,1795.5 1027.7,1777.7 1041.0,1767.3 1058.8,1765.9 1089.9,1768.2 1094.3,1759.9 1101.7,1751.0 1103.2,1742.2 1098.8,1730.3 1088.4,1725.9 1081.0,1715.5 1076.6,1703.7 1063.2,1696.3 1051.4,1685.9 1051.4,1675.5 1064.7,1669.6 1085.4,1666.6 1095.8,1656.3 1103.2,1648.9" fill="#ffffff" stroke="#e2e2e2" stroke-width="1.2" stroke-linejoin="round"/>
<polyline points="1020.3,1795.5 1045.5,1807.3 1046.9,1828.0 1038.0,1836.9 1039.5,1863.6 1026.2,1868.0 1011.4,1884.3 1008.4,1905.1 1023.2,1928.7 1038.0,1946.5 1046.9,1964.3 1058.8,1974.7 1060.3,1988.0 1058.8,1998.3" fill="none" stroke="#7d7d7d" stroke-width="0.9" stroke-linejoin="round" stroke-linecap="round"/>
<polyline points="850.0,1928.7 869.2,1912.5 892.9,1908.0 928.5,1906.5 949.2,1903.6 958.1,1911.0 975.9,1912.5 993.6,1916.9 1008.4,1906.5 1035.1,1896.2 1064.7,1887.3 1082.5,1874.0 1112.1,1866.6 1135.8,1866.6 1165.4,1860.6 1195.0,1853.2 1224.6,1850.3 1240.9,1847.3 1243.9,1859.1 1266.1,1845.8 1280.9,1839.9 1301.6,1841.4 1322.4,1835.5 1346.1,1842.9" fill="none" stroke="#b4d0ec" stroke-width="0.9" stroke-linejoin="round" stroke-linecap="round"/>
<polyline points="1242.4,1765.9 1272.0,1774.7 1276.5,1789.5 1285.3,1804.4 1282.4,1831.0 1279.4,1839.9" fill="none" stroke="#c4dcf2" stroke-width="0.8" stroke-linejoin="round" stroke-linecap="round"/>
<circle cx="953.0" cy="1880.5" r="5.4" fill="#ff0000"/>
<text x="843.2" y="1762.9" font-size="39.5" fill="#7a7a7a" font-weight="bold">J</text>
<text x="1360.3" y="2051.8" font-size="39.5" fill="#7a7a7a" font-weight="bold">K</text>
<text x="1432.8" y="2018.6" font-size="19.8" fill="#000">J3</text>
</g></g>
<g id="map3"><clipPath id="c3"><rect x="1484.2" y="1616.9" width="644.0" height="419.8"/></clipPath><g clip-path="url(#c3)">
<rect x="1484.2" y="1616.9" width="644.0" height="419.8" fill="#c3c3c3"/>
<polygon points="1932.0,1611.8 1933.5,1629.6 1920.2,1638.5 1908.3,1647.4 1914.3,1718.5 1899.4,1819.2 1902.4,1834.0 1943.9,1899.1 1973.5,1952.4 1991.3,1999.8 2003.1,2001.3 2017.9,2014.6 2026.8,2011.7 2032.7,2001.3 2050.5,1988.0 2077.1,1985.0 2106.8,1977.6 2133.4,1976.1 2133.4,1611.8" fill="#d1d1d1"/>
<polygon points="1717.3,2038.3 1720.3,2017.6 1730.6,2002.8 1751.4,1995.4 1766.2,1955.4 1973.5,1955.4 1991.3,1999.8 2003.1,2001.3 2017.9,2014.6 2026.8,2011.7 2032.7,2001.3 2050.5,1988.0 2077.1,1985.0 2106.8,1977.6 2133.4,1976.1 2133.4,2038.3" fill="#b1b1b1"/>
<polyline points="1717.3,2036.6 1720.3,2017.6 1730.6,2002.8 1751.4,1995.4" fill="none" stroke="#f0f0f0" stroke-width="1.3" stroke-linejoin="round" stroke-linecap="round"/>
<polyline points="1994.2,2001.3 2003.1,2001.3 2017.9,2014.6 2026.8,2011.7 2032.7,2001.3 2050.5,1988.0 2077.1,1985.0 2106.8,1977.6 2128.1,1976.1" fill="none" stroke="#f0f0f0" stroke-width="1.3" stroke-linejoin="round" stroke-linecap="round"/>
<polyline points="1902.4,1834.0 1929.1,1831.0 1958.7,1828.0 1985.3,1826.6 2009.0,1828.0 2026.8,1845.8 2050.5,1844.3 2077.1,1836.9 2097.9,1839.9 2115.6,1835.5 2128.1,1842.9" fill="none" stroke="#f4f4f4" stroke-width="1.3" stroke-linejoin="round" stroke-linecap="round"/>
<polyline points="1484.2,1848.8 1499.6,1854.7 1523.3,1868.0 1552.9,1879.9 1588.5,1872.5 1609.2,1869.5 1618.1,1874.0" fill="none" stroke="#d8d8d8" stroke-width="0.9" stroke-linejoin="round" stroke-linecap="round"/>
<polyline points="1552.9,1879.9 1551.4,1908.0 1564.8,1922.8 1585.5,1934.7 1600.3,1955.4 1591.4,1973.2 1588.5,1999.8 1579.6,2020.6 1566.3,2036.6" fill="none" stroke="#d8d8d8" stroke-width="0.9" stroke-linejoin="round" stroke-linecap="round"/>
<polyline points="1844.7,1998.3 1852.1,2020.6 1850.6,2036.6" fill="none" stroke="#c0c0c0" stroke-width="0.8" stroke-linejoin="round" stroke-linecap="round"/>
<polyline points="1900.9,2010.2 1905.4,2023.5 1920.2,2036.6" fill="none" stroke="#c0c0c0" stroke-width="0.8" stroke-linejoin="round" stroke-linecap="round"/>
<polyline points="2112.7,1616.9 2128.1,1620.7" fill="none" stroke="#ededed" stroke-width="1.0" stroke-linejoin="round" stroke-linecap="round"/>
<polyline points="1902.4,1834.0 1929.1,1822.1 1955.7,1810.3 1991.3,1804.4 2003.1,1801.4 2020.9,1783.6 2047.5,1771.8 2074.2,1774.7 2086.0,1758.4 2094.9,1761.4" fill="none" stroke="#8eaac6" stroke-width="1.1" stroke-linejoin="round" stroke-linecap="round"/>
<polyline points="2044.6,1629.6 2068.3,1653.3 2080.1,1688.9 2077.1,1724.4 2086.0,1758.4" fill="none" stroke="#c0d2e4" stroke-width="0.8" stroke-linejoin="round" stroke-linecap="round"/>
<polyline points="1902.4,1834.0 1943.9,1842.9 1988.3,1845.8 2032.7,1866.6 2077.1,1896.2 2128.1,1905.1" fill="none" stroke="#c0d2e4" stroke-width="0.8" stroke-linejoin="round" stroke-linecap="round"/>
<polygon points="1680.3,1682.9 1695.1,1674.0 1721.7,1665.2 1733.6,1669.6 1748.4,1666.6 1769.1,1660.7 1795.8,1659.2 1828.4,1653.3 1849.1,1647.4 1863.9,1638.5 1878.7,1640.0 1890.6,1634.1 1896.5,1644.4 1908.3,1647.4 1920.2,1641.5 1932.0,1642.9 1943.9,1654.8 1958.7,1660.7 1966.1,1663.7 1964.6,1682.9 1966.1,1700.7 1955.7,1706.6 1949.8,1724.4 1951.3,1745.1 1952.8,1761.4 1935.0,1767.3 1920.2,1780.7 1914.3,1795.5 1905.4,1804.4 1899.4,1819.2 1902.4,1834.0 1914.3,1851.7 1923.1,1869.5 1935.0,1884.3 1943.9,1899.1 1955.7,1922.8 1967.6,1946.5 1973.5,1952.4 1991.3,1955.4 1986.8,1973.2 1989.8,1985.0 1986.8,1996.9 1994.2,2001.3 1979.4,2008.7 1961.6,2019.1 1949.8,2017.6 1932.0,2010.2 1914.3,2007.2 1899.4,2010.2 1884.6,2002.8 1863.9,1999.8 1846.1,1998.3 1840.2,1985.0 1825.4,1988.0 1810.6,1990.9 1807.6,2007.2 1798.7,2008.7 1783.9,1996.9 1772.1,1993.9 1754.3,1992.4 1748.4,1982.1 1746.9,1967.2 1766.2,1961.3 1763.2,1943.6 1766.2,1933.2 1757.3,1921.3 1748.4,1912.5 1733.6,1909.5 1715.8,1911.0 1704.0,1906.5 1689.2,1905.1 1674.4,1903.6 1659.5,1899.1 1644.7,1894.7 1631.4,1891.7 1621.0,1881.4 1618.1,1874.0 1624.0,1860.6 1631.4,1845.8 1638.8,1828.0 1643.3,1807.3 1653.6,1795.5 1662.5,1777.7 1668.4,1765.9 1662.5,1754.0 1667.0,1742.2 1689.2,1742.2 1695.1,1730.3 1689.2,1712.5 1686.2,1697.7" fill="#ffffff" stroke="#e4e4e4" stroke-width="1.2" stroke-linejoin="round"/>
<polygon points="1565.4,1618.4 1582.5,1616.9 1579.6,1622.2 1573.7,1623.7 1572.2,1629.0 1569.2,1623.7" fill="#ffffff" stroke="#00ffff" stroke-width="1.0" stroke-linejoin="round"/>
<polygon points="1608.6,1744.5 1616.6,1739.2 1614.5,1745.1 1611.6,1749.0" fill="#e0ffff" stroke="#00ffff" stroke-width="1.2" stroke-linejoin="round"/>
<polygon points="1926.1,1694.2 1929.7,1687.4 1932.0,1692.4 1935.6,1694.8 1929.1,1696.3" fill="#e0ffff" stroke="#00ffff" stroke-width="1.2" stroke-linejoin="round"/>
<polygon points="2094.3,1762.3 2106.8,1761.4 2121.6,1762.3 2128.1,1764.7 2128.1,1767.6 2115.6,1766.4 2105.3,1768.8 2097.9,1765.9" fill="#ffffff" stroke="#00ffff" stroke-width="1.2" stroke-linejoin="round"/>
<polygon points="1991.8,1857.1 1998.7,1851.1 2003.1,1853.2 2001.6,1860.6 2006.1,1868.0 2014.9,1874.0 2026.8,1873.1 2034.2,1865.1 2036.3,1866.6 2029.2,1876.0 2016.4,1877.8 2012.0,1881.4 2014.9,1890.2 2012.0,1888.8 2009.0,1878.4 2003.1,1871.0 1998.7,1862.1" fill="#ffffff" stroke="#00ffff" stroke-width="1.2" stroke-linejoin="round"/>
<polygon points="1866.3,2017.0 1869.2,2020.0 1866.9,2020.6" fill="#00ffff" stroke="#00ffff" stroke-width="0.8" stroke-linejoin="round"/>
<polygon points="2043.1,2025.3 2045.2,2024.1 2044.6,2028.3" fill="#00ffff" stroke="#00ffff" stroke-width="0.8" stroke-linejoin="round"/>
<polyline points="1733.6,1669.6 1730.6,1697.7 1736.6,1718.5 1739.5,1736.2 1732.1,1743.6 1736.6,1751.0 1754.3,1759.9 1769.1,1771.8 1778.0,1777.7 1786.9,1792.5 1798.7,1804.4 1800.2,1819.2 1792.8,1834.0 1783.9,1851.7 1779.5,1866.6 1782.5,1871.0 1788.4,1860.6 1795.8,1853.2 1813.6,1847.3 1822.4,1845.8" fill="none" stroke="#8a8a8a" stroke-width="0.9" stroke-linejoin="round" stroke-linecap="round"/>
<polyline points="1828.4,1653.3 1834.3,1671.1 1835.8,1700.7 1849.1,1703.7 1866.9,1699.2 1874.3,1702.2 1875.7,1724.4 1878.7,1737.7 1872.8,1754.0 1869.8,1777.7 1866.9,1785.1 1852.1,1798.4 1840.2,1816.2 1829.8,1834.0 1822.4,1845.8" fill="none" stroke="#8a8a8a" stroke-width="0.9" stroke-linejoin="round" stroke-linecap="round"/>
<polyline points="1618.1,1874.0 1641.8,1868.0 1653.6,1845.8 1677.3,1839.9 1715.8,1842.9 1751.4,1835.5 1781.0,1834.0 1795.8,1829.5 1804.7,1842.9 1822.4,1847.3 1849.1,1845.8 1872.8,1854.7 1890.6,1836.9 1902.4,1834.0" fill="none" stroke="#b0cce8" stroke-width="0.9" stroke-linejoin="round" stroke-linecap="round"/>
<polyline points="1778.0,1754.0 1786.9,1771.8 1801.7,1792.5 1810.6,1819.2 1795.8,1829.5" fill="none" stroke="#d4e4f4" stroke-width="0.8" stroke-linejoin="round" stroke-linecap="round"/>
<polyline points="1929.1,1694.8 1911.3,1709.6 1908.3,1748.1 1896.5,1783.6 1884.6,1807.3 1890.6,1836.9" fill="none" stroke="#d8e8f8" stroke-width="0.8" stroke-linejoin="round" stroke-linecap="round"/>
<polyline points="1822.4,1847.3 1843.2,1866.6 1858.0,1890.2 1866.9,1925.8 1884.6,1955.4 1914.3,1985.0" fill="none" stroke="#e4eefa" stroke-width="0.8" stroke-linejoin="round" stroke-linecap="round"/>
<circle cx="1801.1" cy="1790.1" r="7.1" fill="#ff0000"/>
<text x="1978.0" y="2028.2" font-size="19.8" fill="#000">J35</text>
</g></g>
<g id="map4"><clipPath id="c4"><rect x="2144.2" y="1616.9" width="643.4" height="419.8"/></clipPath><g clip-path="url(#c4)">
<rect x="2144.2" y="1616.9" width="643.4" height="419.8" fill="#dfdfdf"/>
<polygon points="2138.9,1611.8 2556.5,1611.8 2556.5,1616.9 2544.6,1620.7 2509.1,1629.6 2506.1,1659.2 2337.3,1688.9 2337.3,1663.7 2331.4,1654.8 2316.6,1651.8 2304.7,1659.2 2281.0,1663.7 2269.2,1671.1 2254.4,1674.0 2241.1,1685.9 2248.5,1697.7 2251.4,1715.5 2260.3,1730.3 2266.2,1745.1 2269.2,1759.9 2263.3,1768.8 2267.7,1780.7 2263.3,1789.5 2242.5,1791.0 2215.9,1789.5 2214.4,1804.4 2210.0,1813.2 2221.8,1825.1 2218.9,1845.8 2204.0,1866.6 2198.1,1884.3 2174.4,1908.0 2177.4,1922.8 2165.5,1943.6 2159.6,1964.3 2138.9,1993.9" fill="#c1c1c1"/>
<polygon points="2637.9,1611.8 2663.1,1611.8 2663.1,1618.4 2651.3,1620.7 2637.9,1617.8" fill="#c1c1c1"/>
<polygon points="2686.8,1611.8 2686.8,1616.9 2698.6,1623.7 2710.5,1635.5 2725.3,1637.0 2740.1,1644.4 2752.0,1651.8 2753.4,1685.9 2749.0,1718.5 2731.2,1727.4 2725.3,1748.1 2720.9,1768.8 2725.3,1789.5 2729.7,1811.8 2719.4,1825.1 2692.7,1834.0 2677.9,1851.7 2666.1,1866.6 2660.1,1887.3 2642.4,1893.2 2633.5,1911.0 2639.4,1922.8 2633.5,1952.4 2636.4,1970.2 2648.3,1985.0 2660.1,1999.8 2666.1,2014.6 2680.9,2026.5 2685.3,2041.3 2793.4,2041.3 2793.4,1611.8" fill="#d1d1d1"/>
<polyline points="2686.8,1616.9 2698.6,1623.7 2710.5,1635.5 2725.3,1637.0 2740.1,1644.4 2752.0,1651.8 2753.4,1685.9 2749.0,1718.5 2731.2,1727.4 2725.3,1748.1 2720.9,1768.8 2725.3,1789.5 2729.7,1811.8 2719.4,1825.1 2692.7,1834.0 2677.9,1851.7 2666.1,1866.6 2660.1,1887.3 2642.4,1893.2 2633.5,1911.0 2639.4,1922.8 2633.5,1952.4 2636.4,1970.2 2648.3,1985.0 2660.1,1999.8 2666.1,2014.6 2680.9,2026.5 2685.3,2041.3" fill="none" stroke="#fafafa" stroke-width="1.3" stroke-linejoin="round" stroke-linecap="round"/>
<polyline points="2636.4,1953.9 2663.1,1958.4 2692.7,1951.0 2722.3,1945.0 2752.0,1943.6 2775.6,1940.6 2787.5,1939.1" fill="none" stroke="#fafafa" stroke-width="1.3" stroke-linejoin="round" stroke-linecap="round"/>
<polyline points="2346.2,1807.3 2338.8,1822.1 2344.7,1848.8 2346.2,1872.5 2334.4,1896.2 2327.0,1919.9 2324.0,1955.4 2322.5,1985.0 2327.0,2002.8 2316.6,2020.6 2319.5,2036.6" fill="none" stroke="#fbfbfb" stroke-width="1.2" stroke-linejoin="round" stroke-linecap="round"/>
<polyline points="2495.8,1979.1 2495.8,1999.8 2506.1,2020.6 2513.5,2036.6" fill="none" stroke="#fbfbfb" stroke-width="1.2" stroke-linejoin="round" stroke-linecap="round"/>
<polyline points="2426.2,2019.1 2414.3,2026.5 2406.9,2036.6" fill="none" stroke="#fbfbfb" stroke-width="1.2" stroke-linejoin="round" stroke-linecap="round"/>
<polyline points="2578.7,1865.1 2575.7,1908.0 2586.1,1928.7 2603.9,1943.6 2615.7,1953.9 2633.5,1946.5" fill="none" stroke="#fbfbfb" stroke-width="1.2" stroke-linejoin="round" stroke-linecap="round"/>
<polyline points="2655.7,1728.8 2660.1,1737.7 2652.7,1748.1 2660.1,1759.9 2648.3,1789.5 2646.8,1825.1 2639.4,1845.8 2643.9,1854.7 2615.7,1893.2 2609.8,1899.1" fill="none" stroke="#d0dcec" stroke-width="0.8" stroke-linejoin="round" stroke-linecap="round"/>
<polyline points="2497.2,1979.1 2523.9,1996.9 2532.8,2020.6 2556.5,2036.6" fill="none" stroke="#d4e0ee" stroke-width="0.8" stroke-linejoin="round" stroke-linecap="round"/>
<polygon points="2587.6,1911.0 2592.0,1903.6 2597.9,1905.1 2600.9,1900.6 2605.3,1905.1 2603.9,1919.9 2609.8,1934.7 2614.2,1943.6 2605.3,1947.1 2597.9,1928.7 2587.6,1927.3 2590.5,1918.4" fill="#a1a1a1" stroke="#7c7c7c" stroke-width="0.8" stroke-linejoin="round"/>
<polygon points="2606.8,1908.0 2611.3,1900.6 2615.7,1899.1 2623.1,1908.0 2620.2,1915.4 2627.6,1925.8 2645.3,1924.3 2654.2,1927.3 2653.6,1931.7 2633.5,1939.1 2627.6,1945.0 2621.6,1943.6 2614.2,1937.6 2608.3,1925.8 2605.3,1916.9" fill="#a1a1a1" stroke="#7c7c7c" stroke-width="0.8" stroke-linejoin="round"/>
<polygon points="2337.3,1663.7 2355.1,1659.2 2372.9,1653.3 2396.6,1647.4 2414.3,1644.4 2438.0,1642.9 2467.6,1637.0 2506.1,1632.6 2510.6,1644.4 2516.5,1653.3 2515.0,1674.0 2518.0,1697.7 2519.5,1721.4 2544.6,1721.4 2568.3,1715.5 2587.6,1718.5 2590.5,1733.3 2589.1,1754.0 2597.9,1779.2 2590.5,1786.6 2587.6,1807.3 2580.2,1831.0 2578.7,1865.1 2565.4,1871.0 2550.6,1887.3 2538.7,1905.1 2526.9,1925.8 2512.1,1946.5 2500.2,1970.2 2482.4,1976.1 2467.6,1983.5 2449.9,1988.0 2435.1,1998.3 2430.6,2014.6 2424.7,2020.6 2421.7,2008.7 2424.7,1985.0 2438.0,1961.3 2446.9,1937.6 2455.8,1922.8 2454.3,1905.1 2443.9,1893.2 2429.1,1881.4 2420.2,1860.6 2411.4,1850.3 2390.6,1842.9 2375.8,1831.0 2372.9,1819.2 2355.1,1813.2 2346.2,1807.3 2334.4,1797.0 2337.3,1789.5 2349.2,1780.7 2343.2,1759.9 2337.3,1739.2 2338.8,1718.5 2334.4,1700.7 2337.3,1682.9" fill="#ffffff"/>
<polyline points="2144.2,2022.9 2172.9,2014.6 2193.7,1995.4 2193.7,1977.6 2207.0,1971.1 2278.1,1967.2 2318.1,1968.1 2355.1,1955.4 2383.2,1959.3 2446.9,1948.0 2464.7,1974.7 2497.2,1979.1 2538.7,1974.7 2578.7,1992.4 2597.9,1976.1 2615.7,1959.8 2636.4,1956.9" fill="none" stroke="#a6bcd4" stroke-width="1.0" stroke-linejoin="round" stroke-linecap="round"/>
<polyline points="2423.2,1819.2 2438.0,1854.7 2470.6,1893.2 2475.0,1925.8 2446.9,1948.0" fill="none" stroke="#e2ecf8" stroke-width="0.8" stroke-linejoin="round" stroke-linecap="round"/>
<polyline points="2343.2,1666.6 2372.9,1739.2 2361.0,1754.0 2375.8,1777.7 2366.9,1795.5 2375.8,1813.2 2396.6,1816.2 2420.2,1811.8 2426.2,1801.4 2446.9,1783.6 2464.7,1792.5 2509.1,1783.6 2526.9,1748.1 2520.9,1724.4" fill="none" stroke="#eef3fa" stroke-width="0.8" stroke-linejoin="round" stroke-linecap="round"/>
<polyline points="2547.6,1786.6 2526.9,1836.9 2523.9,1866.6 2509.1,1919.9" fill="none" stroke="#eef3fa" stroke-width="0.8" stroke-linejoin="round" stroke-linecap="round"/>
<circle cx="2458.7" cy="1876.0" r="9.0" fill="#ff0000"/>
<text x="2471.2" y="1857.7" font-size="31.2" fill="#000080">99844</text>
<text x="2573.6" y="2028.2" font-size="19.8" fill="#000">J35D</text>
<polygon points="2681.3,1706.6 2683.6,1702.6 2683.3,1699.5 2685.3,1697.0 2687.0,1693.9 2689.5,1693.3 2689.3,1697.0 2688.7,1700.9 2691.5,1702.6 2694.9,1704.9 2698.6,1704.9 2696.6,1707.2 2693.2,1707.7 2689.8,1705.5 2688.1,1707.2 2684.7,1708.3" fill="#f4ffff" stroke="#00ffff" stroke-width="1.1" stroke-linejoin="round"/>
<text x="2700.0" y="1705.9" font-size="12.1" fill="#0000ff">Koos Raubenheimer</text>
<text x="2737.0" y="2014.7" font-size="12.1" fill="#0000ff">Kammanassie</text>
<text x="2141.0" y="1815.0" font-size="12.1" fill="#0000ff">o</text>
</g></g>
<text x="1348.5" y="2072.9" font-size="12.19" text-anchor="middle" fill="#000">Data for 99844 from copies of DWS databases dated ~2025-03-07 Labs: DWS-RQIS. Plotted at Mike Silberbauer's PC on 2025-03-21 19:44:52 using barcode.R v19.9 (macro option) under R version 4.4.3 (2025-02-28). Queries: Michael.Silberbauer@gmail.com</text>
</svg></body></html>
